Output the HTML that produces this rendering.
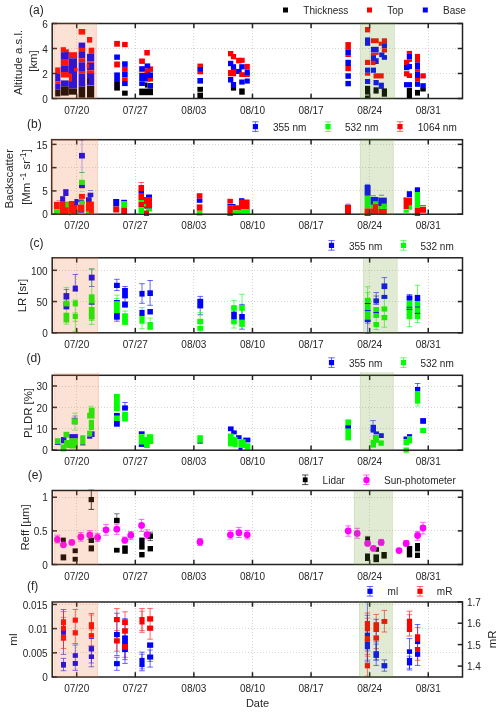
<!DOCTYPE html><html><head><meta charset="utf-8"><style>html,body{margin:0;padding:0;background:#fff;}svg{display:block;will-change:transform;}text{font-family:"Liberation Sans",sans-serif;fill:#262626;}</style></head><body>
<svg width="500" height="712" viewBox="0 0 500 712">
<line x1="76.50" y1="24.00" x2="76.50" y2="98.50" stroke="#d6d6d6" stroke-width="1" stroke-dasharray="1,2"/>
<line x1="135.50" y1="24.00" x2="135.50" y2="98.50" stroke="#d6d6d6" stroke-width="1" stroke-dasharray="1,2"/>
<line x1="193.50" y1="24.00" x2="193.50" y2="98.50" stroke="#d6d6d6" stroke-width="1" stroke-dasharray="1,2"/>
<line x1="252.50" y1="24.00" x2="252.50" y2="98.50" stroke="#d6d6d6" stroke-width="1" stroke-dasharray="1,2"/>
<line x1="311.50" y1="24.00" x2="311.50" y2="98.50" stroke="#d6d6d6" stroke-width="1" stroke-dasharray="1,2"/>
<line x1="369.50" y1="24.00" x2="369.50" y2="98.50" stroke="#d6d6d6" stroke-width="1" stroke-dasharray="1,2"/>
<line x1="428.50" y1="24.00" x2="428.50" y2="98.50" stroke="#d6d6d6" stroke-width="1" stroke-dasharray="1,2"/>
<line x1="53" y1="73.50" x2="462.5" y2="73.50" stroke="#d6d6d6" stroke-width="1" stroke-dasharray="1,2"/>
<line x1="53" y1="48.50" x2="462.5" y2="48.50" stroke="#d6d6d6" stroke-width="1" stroke-dasharray="1,2"/>
<rect x="55.2" y="67.4" width="5.2" height="5.9" fill="#ff0000"/>
<rect x="55.2" y="73.3" width="5.2" height="8.0" fill="#0000ff"/>
<rect x="55.2" y="81.3" width="5.2" height="2.5" fill="#ff0000"/>
<rect x="55.2" y="83.8" width="5.2" height="5.9" fill="#0000ff"/>
<rect x="55.2" y="89.7" width="5.2" height="6.7" fill="#000000"/>
<rect x="60.8" y="47.2" width="5.1" height="5.0" fill="#ff0000"/>
<rect x="64.2" y="49.3" width="4.6" height="5.0" fill="#ff0000"/>
<rect x="60.8" y="52.2" width="8.0" height="7.6" fill="#0000ff"/>
<rect x="60.8" y="59.8" width="8.0" height="5.5" fill="#ff0000"/>
<rect x="60.8" y="65.3" width="8.0" height="6.7" fill="#0000ff"/>
<rect x="60.8" y="72.0" width="8.7" height="5.5" fill="#ff0000"/>
<rect x="60.8" y="80.4" width="8.0" height="5.9" fill="#0000ff"/>
<rect x="60.8" y="86.3" width="8.0" height="9.3" fill="#000000"/>
<rect x="69.0" y="52.2" width="8.0" height="6.1" fill="#ff0000"/>
<rect x="69.0" y="58.3" width="8.0" height="30.3" fill="#0000ff"/>
<rect x="74.0" y="68.0" width="3.6" height="3.4" fill="#ff0000"/>
<rect x="69.0" y="73.5" width="3.0" height="8.0" fill="#ff0000"/>
<rect x="69.0" y="88.6" width="8.0" height="6.1" fill="#000000"/>
<rect x="78.6" y="29.0" width="6.6" height="5.6" fill="#ff0000"/>
<rect x="78.6" y="42.6" width="6.6" height="5.6" fill="#0000ff"/>
<rect x="78.6" y="47.7" width="6.6" height="3.5" fill="#ff0000"/>
<rect x="78.6" y="51.2" width="6.6" height="7.1" fill="#0000ff"/>
<rect x="78.6" y="58.3" width="6.6" height="4.0" fill="#ff0000"/>
<rect x="78.6" y="62.3" width="6.6" height="8.7" fill="#0000ff"/>
<rect x="78.6" y="71.0" width="6.6" height="2.5" fill="#ff0000"/>
<rect x="78.6" y="73.5" width="6.6" height="13.1" fill="#0000ff"/>
<rect x="78.6" y="86.6" width="6.6" height="11.1" fill="#000000"/>
<rect x="87.0" y="37.0" width="5.2" height="5.6" fill="#ff0000"/>
<rect x="88.7" y="47.7" width="5.5" height="6.1" fill="#ff0000"/>
<rect x="87.0" y="53.8" width="7.2" height="7.5" fill="#0000ff"/>
<rect x="87.0" y="61.3" width="7.2" height="1.5" fill="#ff0000"/>
<rect x="87.0" y="62.8" width="7.2" height="7.6" fill="#0000ff"/>
<rect x="86.7" y="63.9" width="2.5" height="4.5" fill="#ff0000"/>
<rect x="87.0" y="70.4" width="7.2" height="3.6" fill="#ff0000"/>
<rect x="87.0" y="73.5" width="7.2" height="12.1" fill="#0000ff"/>
<rect x="87.0" y="78.5" width="2.0" height="5.1" fill="#000000"/>
<rect x="87.0" y="86.0" width="7.2" height="11.7" fill="#000000"/>
<rect x="114.2" y="40.9" width="5.7" height="5.8" fill="#ff0000"/>
<rect x="114.2" y="54.5" width="5.7" height="5.3" fill="#0000ff"/>
<rect x="114.2" y="61.5" width="5.7" height="5.9" fill="#ff0000"/>
<rect x="114.2" y="72.4" width="5.7" height="9.6" fill="#0000ff"/>
<rect x="114.2" y="82.0" width="5.7" height="8.6" fill="#000000"/>
<rect x="122.1" y="41.9" width="5.6" height="5.3" fill="#ff0000"/>
<rect x="122.1" y="61.3" width="5.6" height="5.6" fill="#0000ff"/>
<rect x="122.1" y="66.9" width="5.6" height="5.0" fill="#ff0000"/>
<rect x="122.1" y="71.9" width="5.6" height="5.6" fill="#0000ff"/>
<rect x="122.1" y="77.5" width="5.6" height="3.5" fill="#ff0000"/>
<rect x="122.1" y="81.0" width="5.6" height="5.1" fill="#0000ff"/>
<rect x="122.1" y="90.6" width="5.6" height="5.1" fill="#000000"/>
<rect x="144.3" y="50.0" width="5.5" height="5.5" fill="#ff0000"/>
<rect x="139.2" y="58.5" width="5.7" height="5.4" fill="#ff0000"/>
<rect x="147.6" y="66.4" width="5.4" height="5.5" fill="#ff0000"/>
<rect x="144.6" y="68.4" width="5.6" height="5.1" fill="#ff0000"/>
<rect x="144.6" y="63.4" width="5.6" height="5.0" fill="#0000ff"/>
<rect x="139.2" y="66.2" width="5.7" height="4.8" fill="#0000ff"/>
<rect x="139.2" y="71.0" width="5.7" height="1.4" fill="#ff0000"/>
<rect x="139.2" y="73.0" width="11.0" height="8.5" fill="#0000ff"/>
<rect x="147.6" y="72.4" width="5.4" height="5.6" fill="#0000ff"/>
<rect x="147.6" y="78.0" width="5.4" height="3.5" fill="#ff0000"/>
<rect x="139.2" y="81.5" width="5.7" height="4.5" fill="#0000ff"/>
<rect x="144.9" y="82.5" width="2.7" height="5.1" fill="#000000"/>
<rect x="147.6" y="83.0" width="5.4" height="5.6" fill="#0000ff"/>
<rect x="139.2" y="88.6" width="13.8" height="6.6" fill="#000000"/>
<rect x="197.4" y="63.6" width="5.6" height="3.3" fill="#ff0000"/>
<rect x="197.4" y="66.9" width="5.6" height="5.0" fill="#0000ff"/>
<rect x="197.4" y="71.9" width="5.6" height="2.4" fill="#ff0000"/>
<rect x="197.4" y="78.0" width="5.6" height="5.6" fill="#0000ff"/>
<rect x="197.4" y="86.8" width="5.6" height="5.0" fill="#000000"/>
<rect x="197.4" y="92.6" width="5.6" height="5.6" fill="#000000"/>
<rect x="228.0" y="51.0" width="5.3" height="5.3" fill="#ff0000"/>
<rect x="230.9" y="54.0" width="5.2" height="5.3" fill="#ff0000"/>
<rect x="236.1" y="57.8" width="5.6" height="5.6" fill="#ff0000"/>
<rect x="239.2" y="57.8" width="5.5" height="5.0" fill="#ff0000"/>
<rect x="228.0" y="60.8" width="5.3" height="5.4" fill="#0000ff"/>
<rect x="230.9" y="64.2" width="5.2" height="5.7" fill="#0000ff"/>
<rect x="244.7" y="63.9" width="5.1" height="5.3" fill="#ff0000"/>
<rect x="239.2" y="64.2" width="5.5" height="5.2" fill="#0000ff"/>
<rect x="228.0" y="69.9" width="8.1" height="6.4" fill="#ff0000"/>
<rect x="236.1" y="68.9" width="5.6" height="5.1" fill="#0000ff"/>
<rect x="239.2" y="72.2" width="10.6" height="4.8" fill="#ff0000"/>
<rect x="244.7" y="69.4" width="5.1" height="5.6" fill="#0000ff"/>
<rect x="228.0" y="77.0" width="5.3" height="5.5" fill="#0000ff"/>
<rect x="230.9" y="82.0" width="5.2" height="5.1" fill="#0000ff"/>
<rect x="239.2" y="79.5" width="5.5" height="5.1" fill="#0000ff"/>
<rect x="244.7" y="78.5" width="5.1" height="5.1" fill="#0000ff"/>
<rect x="230.9" y="87.1" width="5.2" height="3.5" fill="#000000"/>
<rect x="239.2" y="88.4" width="5.5" height="6.3" fill="#000000"/>
<rect x="345.4" y="42.1" width="5.5" height="7.3" fill="#ff0000"/>
<rect x="345.4" y="49.4" width="5.5" height="5.7" fill="#0000ff"/>
<rect x="345.4" y="55.1" width="5.5" height="1.9" fill="#ff0000"/>
<rect x="345.4" y="59.8" width="5.5" height="6.2" fill="#0000ff"/>
<rect x="345.4" y="66.0" width="5.5" height="5.2" fill="#ff0000"/>
<rect x="345.4" y="73.3" width="5.5" height="5.5" fill="#0000ff"/>
<rect x="345.4" y="80.9" width="5.5" height="5.4" fill="#0000ff"/>
<rect x="365.0" y="27.0" width="5.2" height="5.4" fill="#ff0000"/>
<rect x="365.0" y="37.4" width="5.2" height="8.4" fill="#0000ff"/>
<rect x="365.0" y="59.8" width="5.2" height="5.2" fill="#ff0000"/>
<rect x="365.0" y="67.6" width="5.2" height="5.2" fill="#0000ff"/>
<rect x="365.0" y="72.8" width="5.2" height="2.9" fill="#ff0000"/>
<rect x="365.0" y="79.0" width="5.2" height="5.0" fill="#0000ff"/>
<rect x="365.0" y="85.8" width="5.2" height="8.8" fill="#000000"/>
<rect x="365.0" y="95.5" width="5.2" height="3.0" fill="#000000"/>
<rect x="370.9" y="38.3" width="7.8" height="4.9" fill="#ff0000"/>
<rect x="378.7" y="41.6" width="3.1" height="4.2" fill="#ff0000"/>
<rect x="370.9" y="46.8" width="7.8" height="5.7" fill="#0000ff"/>
<rect x="370.9" y="52.8" width="7.8" height="2.1" fill="#ff0000"/>
<rect x="370.9" y="55.1" width="5.1" height="6.2" fill="#0000ff"/>
<rect x="373.5" y="58.2" width="5.2" height="5.8" fill="#0000ff"/>
<rect x="370.9" y="60.8" width="4.6" height="4.2" fill="#ff0000"/>
<rect x="370.9" y="67.6" width="5.1" height="5.2" fill="#0000ff"/>
<rect x="373.5" y="73.3" width="10.2" height="5.2" fill="#ff0000"/>
<rect x="373.5" y="80.0" width="5.2" height="5.3" fill="#0000ff"/>
<rect x="373.5" y="87.3" width="5.2" height="6.3" fill="#000000"/>
<rect x="381.8" y="38.3" width="5.2" height="4.9" fill="#ff0000"/>
<rect x="381.8" y="43.2" width="5.2" height="5.2" fill="#0000ff"/>
<rect x="381.8" y="48.4" width="5.2" height="4.1" fill="#ff0000"/>
<rect x="379.2" y="52.5" width="5.2" height="4.7" fill="#0000ff"/>
<rect x="381.8" y="55.1" width="5.2" height="4.7" fill="#0000ff"/>
<rect x="378.7" y="82.7" width="5.2" height="6.2" fill="#0000ff"/>
<rect x="381.8" y="88.4" width="5.2" height="8.3" fill="#000000"/>
<rect x="406.8" y="50.9" width="5.2" height="3.0" fill="#ff0000"/>
<rect x="406.8" y="53.9" width="5.2" height="5.4" fill="#0000ff"/>
<rect x="404.0" y="59.8" width="5.4" height="5.2" fill="#ff0000"/>
<rect x="406.8" y="59.3" width="5.2" height="2.6" fill="#ff0000"/>
<rect x="404.0" y="65.0" width="5.4" height="5.2" fill="#0000ff"/>
<rect x="406.8" y="64.0" width="5.2" height="5.1" fill="#0000ff"/>
<rect x="404.0" y="71.2" width="5.4" height="5.2" fill="#ff0000"/>
<rect x="406.8" y="73.3" width="5.2" height="4.7" fill="#ff0000"/>
<rect x="404.0" y="82.1" width="8.0" height="5.2" fill="#0000ff"/>
<rect x="406.8" y="87.8" width="5.2" height="10.4" fill="#000000"/>
<rect x="415.0" y="53.9" width="5.0" height="8.5" fill="#ff0000"/>
<rect x="415.0" y="62.4" width="5.0" height="6.7" fill="#0000ff"/>
<rect x="415.0" y="69.1" width="5.0" height="2.6" fill="#ff0000"/>
<rect x="415.0" y="71.7" width="5.0" height="6.3" fill="#0000ff"/>
<rect x="415.0" y="78.0" width="5.0" height="3.6" fill="#ff0000"/>
<rect x="415.0" y="81.6" width="5.0" height="5.2" fill="#0000ff"/>
<rect x="415.0" y="89.9" width="5.0" height="5.7" fill="#000000"/>
<rect x="420.3" y="73.3" width="5.5" height="5.2" fill="#ff0000"/>
<rect x="420.3" y="83.2" width="5.5" height="5.7" fill="#0000ff"/>
<rect x="420.3" y="88.4" width="5.5" height="3.1" fill="#000000"/>
<rect x="52.2" y="23.5" width="410.30" height="75.00" fill="none" stroke="#222222" stroke-width="1.5"/>
<line x1="76.70" y1="98.5" x2="76.70" y2="93.70" stroke="#222222" stroke-width="1.5"/>
<line x1="76.70" y1="23.5" x2="76.70" y2="28.30" stroke="#222222" stroke-width="1.5"/>
<text x="76.70" y="113.50" font-size="10" text-anchor="middle">07/20</text>
<line x1="135.29" y1="98.5" x2="135.29" y2="93.70" stroke="#222222" stroke-width="1.5"/>
<line x1="135.29" y1="23.5" x2="135.29" y2="28.30" stroke="#222222" stroke-width="1.5"/>
<text x="135.29" y="113.50" font-size="10" text-anchor="middle">07/27</text>
<line x1="193.88" y1="98.5" x2="193.88" y2="93.70" stroke="#222222" stroke-width="1.5"/>
<line x1="193.88" y1="23.5" x2="193.88" y2="28.30" stroke="#222222" stroke-width="1.5"/>
<text x="193.88" y="113.50" font-size="10" text-anchor="middle">08/03</text>
<line x1="252.47" y1="98.5" x2="252.47" y2="93.70" stroke="#222222" stroke-width="1.5"/>
<line x1="252.47" y1="23.5" x2="252.47" y2="28.30" stroke="#222222" stroke-width="1.5"/>
<text x="252.47" y="113.50" font-size="10" text-anchor="middle">08/10</text>
<line x1="311.06" y1="98.5" x2="311.06" y2="93.70" stroke="#222222" stroke-width="1.5"/>
<line x1="311.06" y1="23.5" x2="311.06" y2="28.30" stroke="#222222" stroke-width="1.5"/>
<text x="311.06" y="113.50" font-size="10" text-anchor="middle">08/17</text>
<line x1="369.65" y1="98.5" x2="369.65" y2="93.70" stroke="#222222" stroke-width="1.5"/>
<line x1="369.65" y1="23.5" x2="369.65" y2="28.30" stroke="#222222" stroke-width="1.5"/>
<text x="369.65" y="113.50" font-size="10" text-anchor="middle">08/24</text>
<line x1="428.24" y1="98.5" x2="428.24" y2="93.70" stroke="#222222" stroke-width="1.5"/>
<line x1="428.24" y1="23.5" x2="428.24" y2="28.30" stroke="#222222" stroke-width="1.5"/>
<text x="428.24" y="113.50" font-size="10" text-anchor="middle">08/31</text>
<line x1="52.2" y1="98.50" x2="57.00" y2="98.50" stroke="#222222" stroke-width="1.5"/>
<line x1="462.5" y1="98.50" x2="457.7" y2="98.50" stroke="#222222" stroke-width="1.5"/>
<text x="47.7" y="102.70" font-size="10" text-anchor="end">0</text>
<line x1="52.2" y1="73.50" x2="57.00" y2="73.50" stroke="#222222" stroke-width="1.5"/>
<line x1="462.5" y1="73.50" x2="457.7" y2="73.50" stroke="#222222" stroke-width="1.5"/>
<text x="47.7" y="77.70" font-size="10" text-anchor="end">2</text>
<line x1="52.2" y1="48.50" x2="57.00" y2="48.50" stroke="#222222" stroke-width="1.5"/>
<line x1="462.5" y1="48.50" x2="457.7" y2="48.50" stroke="#222222" stroke-width="1.5"/>
<text x="47.7" y="52.70" font-size="10" text-anchor="end">4</text>
<line x1="52.2" y1="23.50" x2="57.00" y2="23.50" stroke="#222222" stroke-width="1.5"/>
<line x1="462.5" y1="23.50" x2="457.7" y2="23.50" stroke="#222222" stroke-width="1.5"/>
<text x="47.7" y="27.70" font-size="10" text-anchor="end">6</text>
<rect x="53.2" y="22.5" width="43.6" height="76.5" fill="#f26a2f" fill-opacity="0.2"/>
<line x1="96.3" y1="22.5" x2="96.3" y2="99.0" stroke="#f26a2f" stroke-opacity="0.15" stroke-width="1"/>
<line x1="54.5" y1="22.5" x2="54.5" y2="99.0" stroke="#f26a2f" stroke-opacity="0.12" stroke-width="1"/>
<rect x="359.9" y="22.2" width="35.0" height="76.8" fill="#6b9a2a" fill-opacity="0.2"/>
<line x1="360.4" y1="22.2" x2="360.4" y2="99.0" stroke="#6b9a2a" stroke-opacity="0.12" stroke-width="1"/>
<line x1="394.4" y1="22.2" x2="394.4" y2="99.0" stroke="#6b9a2a" stroke-opacity="0.08" stroke-width="1"/>
<line x1="76.50" y1="140.00" x2="76.50" y2="214.20" stroke="#d6d6d6" stroke-width="1" stroke-dasharray="1,2"/>
<line x1="135.50" y1="140.00" x2="135.50" y2="214.20" stroke="#d6d6d6" stroke-width="1" stroke-dasharray="1,2"/>
<line x1="193.50" y1="140.00" x2="193.50" y2="214.20" stroke="#d6d6d6" stroke-width="1" stroke-dasharray="1,2"/>
<line x1="252.50" y1="140.00" x2="252.50" y2="214.20" stroke="#d6d6d6" stroke-width="1" stroke-dasharray="1,2"/>
<line x1="311.50" y1="140.00" x2="311.50" y2="214.20" stroke="#d6d6d6" stroke-width="1" stroke-dasharray="1,2"/>
<line x1="369.50" y1="140.00" x2="369.50" y2="214.20" stroke="#d6d6d6" stroke-width="1" stroke-dasharray="1,2"/>
<line x1="428.50" y1="140.00" x2="428.50" y2="214.20" stroke="#d6d6d6" stroke-width="1" stroke-dasharray="1,2"/>
<line x1="53" y1="190.50" x2="462.5" y2="190.50" stroke="#d6d6d6" stroke-width="1" stroke-dasharray="1,2"/>
<line x1="53" y1="167.50" x2="462.5" y2="167.50" stroke="#d6d6d6" stroke-width="1" stroke-dasharray="1,2"/>
<line x1="53" y1="144.50" x2="462.5" y2="144.50" stroke="#d6d6d6" stroke-width="1" stroke-dasharray="1,2"/>
<line x1="82.0" y1="140.0" x2="82.0" y2="172.5" stroke="#0000ff" stroke-opacity="0.35" stroke-width="1.0"/>
<line x1="79.5" y1="140.0" x2="84.5" y2="140.0" stroke="#0000ff" stroke-opacity="0.5" stroke-width="1.0"/>
<line x1="79.5" y1="172.5" x2="84.5" y2="172.5" stroke="#0000ff" stroke-opacity="0.5" stroke-width="1.0"/>
<line x1="79.5" y1="172.5" x2="84.5" y2="172.5" stroke="#00ff00" stroke-opacity="0.5" stroke-width="1.0"/>
<line x1="82.0" y1="172.5" x2="82.0" y2="180.0" stroke="#00ff00" stroke-opacity="0.35" stroke-width="1.0"/>
<line x1="79.5" y1="188.2" x2="84.5" y2="188.2" stroke="#ff0000" stroke-opacity="0.5" stroke-width="1.0"/>
<line x1="79.5" y1="191.6" x2="84.5" y2="191.6" stroke="#00ff00" stroke-opacity="0.5" stroke-width="1.0"/>
<line x1="88.0" y1="190.5" x2="93.0" y2="190.5" stroke="#0000ff" stroke-opacity="0.5" stroke-width="1.0"/>
<line x1="86.5" y1="195.0" x2="91.5" y2="195.0" stroke="#ff0000" stroke-opacity="0.5" stroke-width="1.0"/>
<line x1="56.5" y1="200.6" x2="61.5" y2="200.6" stroke="#ff0000" stroke-opacity="0.5" stroke-width="1.0"/>
<line x1="138.5" y1="182.5" x2="144.0" y2="182.5" stroke="#ff0000" stroke-opacity="0.6" stroke-width="1.0"/>
<line x1="141.2" y1="182.5" x2="141.2" y2="185.0" stroke="#ff0000" stroke-opacity="0.5" stroke-width="1.0"/>
<line x1="345.5" y1="204.2" x2="350.5" y2="204.2" stroke="#0000ff" stroke-opacity="0.6" stroke-width="1.0"/>
<line x1="365.0" y1="184.4" x2="370.0" y2="184.4" stroke="#0000ff" stroke-opacity="0.6" stroke-width="1.0"/>
<line x1="371.0" y1="195.8" x2="376.0" y2="195.8" stroke="#0000ff" stroke-opacity="0.6" stroke-width="1.0"/>
<line x1="379.0" y1="195.2" x2="384.0" y2="195.2" stroke="#0000ff" stroke-opacity="0.6" stroke-width="1.0"/>
<line x1="403.2" y1="198.2" x2="406.8" y2="198.2" stroke="#0000ff" stroke-opacity="0.6" stroke-width="1.0"/>
<line x1="415.0" y1="187.6" x2="420.0" y2="187.6" stroke="#0000ff" stroke-opacity="0.6" stroke-width="1.0"/>
<line x1="420.0" y1="206.0" x2="426.0" y2="206.0" stroke="#00ff00" stroke-opacity="0.6" stroke-width="1.0"/>
<line x1="420.0" y1="205.6" x2="426.0" y2="205.6" stroke="#0000ff" stroke-opacity="0.6" stroke-width="1.0"/>
<rect x="63.2" y="189.2" width="5.3" height="6.8" fill="#0000ff"/>
<rect x="60.1" y="196.2" width="5.1" height="5.6" fill="#0000ff"/>
<rect x="54.0" y="201.8" width="5.8" height="7.3" fill="#ff0000"/>
<rect x="54.0" y="209.1" width="5.8" height="4.8" fill="#00ff00"/>
<rect x="59.8" y="201.8" width="9.0" height="12.9" fill="#ff0000"/>
<rect x="65.4" y="202.1" width="3.4" height="5.3" fill="#00ff00"/>
<rect x="68.8" y="201.0" width="8.4" height="13.2" fill="#ff0000"/>
<rect x="68.8" y="213.0" width="2.2" height="2.3" fill="#00ff00"/>
<rect x="74.4" y="199.0" width="3.8" height="6.2" fill="#0000ff"/>
<rect x="79.0" y="152.9" width="5.9" height="5.6" fill="#0000ff"/>
<rect x="79.0" y="179.8" width="5.9" height="5.1" fill="#00ff00"/>
<rect x="79.0" y="184.9" width="5.9" height="3.1" fill="#0000ff"/>
<rect x="79.0" y="193.9" width="5.9" height="5.0" fill="#ff0000"/>
<rect x="78.2" y="199.5" width="5.6" height="2.8" fill="#0000ff"/>
<rect x="79.3" y="200.6" width="5.6" height="3.9" fill="#00ff00"/>
<rect x="77.6" y="204.5" width="6.8" height="7.9" fill="#ff0000"/>
<rect x="78.0" y="212.2" width="6.0" height="0.6" fill="#0000ff"/>
<rect x="87.7" y="192.7" width="5.6" height="4.5" fill="#0000ff"/>
<rect x="86.0" y="197.2" width="5.7" height="5.1" fill="#0000ff"/>
<rect x="86.0" y="201.7" width="7.9" height="11.8" fill="#ff0000"/>
<rect x="86.0" y="211.3" width="2.9" height="2.2" fill="#00ff00"/>
<rect x="113.2" y="199.0" width="6.0" height="7.5" fill="#0000ff"/>
<rect x="113.2" y="206.5" width="6.0" height="6.0" fill="#ff0000"/>
<rect x="121.2" y="199.8" width="5.8" height="1.2" fill="#0000ff"/>
<rect x="121.2" y="201.0" width="5.8" height="6.5" fill="#00ff00"/>
<rect x="121.2" y="207.5" width="5.8" height="6.5" fill="#ff0000"/>
<rect x="138.5" y="185.0" width="5.5" height="6.0" fill="#ff0000"/>
<rect x="138.5" y="191.0" width="5.5" height="2.0" fill="#0000ff"/>
<rect x="138.5" y="193.0" width="5.5" height="7.0" fill="#ff0000"/>
<rect x="138.5" y="200.0" width="5.5" height="2.0" fill="#00ff00"/>
<rect x="138.5" y="202.0" width="5.5" height="5.0" fill="#ff0000"/>
<rect x="138.5" y="206.8" width="5.5" height="0.6" fill="#0000ff"/>
<rect x="138.5" y="207.5" width="5.5" height="5.5" fill="#00ff00"/>
<rect x="146.0" y="194.5" width="6.0" height="3.0" fill="#0000ff"/>
<rect x="144.0" y="197.0" width="8.0" height="11.5" fill="#ff0000"/>
<rect x="144.0" y="204.0" width="2.0" height="2.5" fill="#00ff00"/>
<rect x="145.0" y="208.2" width="7.0" height="0.6" fill="#0000ff"/>
<rect x="146.0" y="208.5" width="6.0" height="3.0" fill="#00ff00"/>
<rect x="144.0" y="210.5" width="5.0" height="5.5" fill="#ff0000"/>
<rect x="196.8" y="193.2" width="5.6" height="5.6" fill="#ff0000"/>
<rect x="196.8" y="198.8" width="5.6" height="4.0" fill="#0000ff"/>
<rect x="196.8" y="204.4" width="5.6" height="6.4" fill="#ff0000"/>
<rect x="196.8" y="210.8" width="5.6" height="4.8" fill="#00ff00"/>
<rect x="227.4" y="198.8" width="5.5" height="4.8" fill="#ff0000"/>
<rect x="227.4" y="204.0" width="8.2" height="1.6" fill="#0000ff"/>
<rect x="227.4" y="205.6" width="5.5" height="10.3" fill="#ff0000"/>
<rect x="232.9" y="205.3" width="6.1" height="5.1" fill="#ff0000"/>
<rect x="232.9" y="210.4" width="8.1" height="4.1" fill="#00ff00"/>
<rect x="239.0" y="198.2" width="5.4" height="2.7" fill="#0000ff"/>
<rect x="239.0" y="199.5" width="10.6" height="10.9" fill="#ff0000"/>
<rect x="241.0" y="209.0" width="8.9" height="4.5" fill="#00ff00"/>
<rect x="345.0" y="204.8" width="6.0" height="9.6" fill="#ff0000"/>
<rect x="364.6" y="185.0" width="6.0" height="10.8" fill="#0000ff"/>
<rect x="364.6" y="195.8" width="6.0" height="12.6" fill="#00ff00"/>
<rect x="364.6" y="208.4" width="6.0" height="7.6" fill="#ff0000"/>
<rect x="370.6" y="197.0" width="7.8" height="7.8" fill="#0000ff"/>
<rect x="373.0" y="201.2" width="5.4" height="3.6" fill="#00ff00"/>
<rect x="373.0" y="204.2" width="5.4" height="10.2" fill="#ff0000"/>
<rect x="370.6" y="204.8" width="2.4" height="3.6" fill="#00ff00"/>
<rect x="370.6" y="208.4" width="2.4" height="6.0" fill="#ff0000"/>
<rect x="378.4" y="197.6" width="8.4" height="8.4" fill="#0000ff"/>
<rect x="381.4" y="203.6" width="5.4" height="6.0" fill="#00ff00"/>
<rect x="378.4" y="206.0" width="3.0" height="3.6" fill="#00ff00"/>
<rect x="378.4" y="209.0" width="8.4" height="6.0" fill="#ff0000"/>
<rect x="406.8" y="191.2" width="5.2" height="6.0" fill="#0000ff"/>
<rect x="403.6" y="197.6" width="8.4" height="11.6" fill="#ff0000"/>
<rect x="408.8" y="205.2" width="3.2" height="4.4" fill="#00ff00"/>
<rect x="403.6" y="209.6" width="5.2" height="3.2" fill="#00ff00"/>
<rect x="414.8" y="187.6" width="5.2" height="4.4" fill="#0000ff"/>
<rect x="414.8" y="192.0" width="5.2" height="16.0" fill="#00ff00"/>
<rect x="414.8" y="208.0" width="5.2" height="8.0" fill="#ff0000"/>
<rect x="420.0" y="206.8" width="6.0" height="6.0" fill="#ff0000"/>
<rect x="51.7" y="139.7" width="410.80" height="74.50" fill="none" stroke="#222222" stroke-width="1.5"/>
<line x1="76.70" y1="214.2" x2="76.70" y2="209.40" stroke="#222222" stroke-width="1.5"/>
<line x1="76.70" y1="139.7" x2="76.70" y2="144.50" stroke="#222222" stroke-width="1.5"/>
<text x="76.70" y="229.20" font-size="10" text-anchor="middle">07/20</text>
<line x1="135.29" y1="214.2" x2="135.29" y2="209.40" stroke="#222222" stroke-width="1.5"/>
<line x1="135.29" y1="139.7" x2="135.29" y2="144.50" stroke="#222222" stroke-width="1.5"/>
<text x="135.29" y="229.20" font-size="10" text-anchor="middle">07/27</text>
<line x1="193.88" y1="214.2" x2="193.88" y2="209.40" stroke="#222222" stroke-width="1.5"/>
<line x1="193.88" y1="139.7" x2="193.88" y2="144.50" stroke="#222222" stroke-width="1.5"/>
<text x="193.88" y="229.20" font-size="10" text-anchor="middle">08/03</text>
<line x1="252.47" y1="214.2" x2="252.47" y2="209.40" stroke="#222222" stroke-width="1.5"/>
<line x1="252.47" y1="139.7" x2="252.47" y2="144.50" stroke="#222222" stroke-width="1.5"/>
<text x="252.47" y="229.20" font-size="10" text-anchor="middle">08/10</text>
<line x1="311.06" y1="214.2" x2="311.06" y2="209.40" stroke="#222222" stroke-width="1.5"/>
<line x1="311.06" y1="139.7" x2="311.06" y2="144.50" stroke="#222222" stroke-width="1.5"/>
<text x="311.06" y="229.20" font-size="10" text-anchor="middle">08/17</text>
<line x1="369.65" y1="214.2" x2="369.65" y2="209.40" stroke="#222222" stroke-width="1.5"/>
<line x1="369.65" y1="139.7" x2="369.65" y2="144.50" stroke="#222222" stroke-width="1.5"/>
<text x="369.65" y="229.20" font-size="10" text-anchor="middle">08/24</text>
<line x1="428.24" y1="214.2" x2="428.24" y2="209.40" stroke="#222222" stroke-width="1.5"/>
<line x1="428.24" y1="139.7" x2="428.24" y2="144.50" stroke="#222222" stroke-width="1.5"/>
<text x="428.24" y="229.20" font-size="10" text-anchor="middle">08/31</text>
<line x1="51.7" y1="214.20" x2="56.50" y2="214.20" stroke="#222222" stroke-width="1.5"/>
<line x1="462.5" y1="214.20" x2="457.7" y2="214.20" stroke="#222222" stroke-width="1.5"/>
<text x="47.7" y="218.40" font-size="10" text-anchor="end">0</text>
<line x1="51.7" y1="190.92" x2="56.50" y2="190.92" stroke="#222222" stroke-width="1.5"/>
<line x1="462.5" y1="190.92" x2="457.7" y2="190.92" stroke="#222222" stroke-width="1.5"/>
<text x="47.7" y="195.12" font-size="10" text-anchor="end">5</text>
<line x1="51.7" y1="167.64" x2="56.50" y2="167.64" stroke="#222222" stroke-width="1.5"/>
<line x1="462.5" y1="167.64" x2="457.7" y2="167.64" stroke="#222222" stroke-width="1.5"/>
<text x="47.7" y="171.84" font-size="10" text-anchor="end">10</text>
<line x1="51.7" y1="144.36" x2="56.50" y2="144.36" stroke="#222222" stroke-width="1.5"/>
<line x1="462.5" y1="144.36" x2="457.7" y2="144.36" stroke="#222222" stroke-width="1.5"/>
<text x="47.7" y="148.56" font-size="10" text-anchor="end">15</text>
<rect x="50.6" y="138.6" width="47.3" height="76.2" fill="#f26a2f" fill-opacity="0.2"/>
<line x1="97.4" y1="138.6" x2="97.4" y2="214.8" stroke="#f26a2f" stroke-opacity="0.15" stroke-width="1"/>
<line x1="51.9" y1="138.6" x2="51.9" y2="214.8" stroke="#f26a2f" stroke-opacity="0.12" stroke-width="1"/>
<rect x="359.9" y="138.1" width="33.9" height="76.7" fill="#6b9a2a" fill-opacity="0.2"/>
<line x1="360.4" y1="138.1" x2="360.4" y2="214.8" stroke="#6b9a2a" stroke-opacity="0.12" stroke-width="1"/>
<line x1="393.3" y1="138.1" x2="393.3" y2="214.8" stroke="#6b9a2a" stroke-opacity="0.08" stroke-width="1"/>
<line x1="76.50" y1="258.00" x2="76.50" y2="332.80" stroke="#d6d6d6" stroke-width="1" stroke-dasharray="1,2"/>
<line x1="135.50" y1="258.00" x2="135.50" y2="332.80" stroke="#d6d6d6" stroke-width="1" stroke-dasharray="1,2"/>
<line x1="193.50" y1="258.00" x2="193.50" y2="332.80" stroke="#d6d6d6" stroke-width="1" stroke-dasharray="1,2"/>
<line x1="252.50" y1="258.00" x2="252.50" y2="332.80" stroke="#d6d6d6" stroke-width="1" stroke-dasharray="1,2"/>
<line x1="311.50" y1="258.00" x2="311.50" y2="332.80" stroke="#d6d6d6" stroke-width="1" stroke-dasharray="1,2"/>
<line x1="369.50" y1="258.00" x2="369.50" y2="332.80" stroke="#d6d6d6" stroke-width="1" stroke-dasharray="1,2"/>
<line x1="428.50" y1="258.00" x2="428.50" y2="332.80" stroke="#d6d6d6" stroke-width="1" stroke-dasharray="1,2"/>
<line x1="53" y1="301.50" x2="462.5" y2="301.50" stroke="#d6d6d6" stroke-width="1" stroke-dasharray="1,2"/>
<line x1="53" y1="270.50" x2="462.5" y2="270.50" stroke="#d6d6d6" stroke-width="1" stroke-dasharray="1,2"/>
<path d="M63.6 287.4H69.2M66.4 287.4V324.2M63.6 324.2H69.2" stroke="#00ff00" stroke-opacity="0.6" stroke-width="1.0" fill="none"/>
<path d="M63.6 289.4H69.2M66.4 289.4V309.0M63.6 309.0H69.2" stroke="#0000ff" stroke-opacity="0.6" stroke-width="1.0" fill="none"/>
<path d="M72.5 274.5H78.1M75.3 274.5V291.0M72.5 291.0H78.1" stroke="#0000ff" stroke-opacity="0.6" stroke-width="1.0" fill="none"/>
<path d="M72.5 300.0H78.1M75.3 300.0V321.3M72.5 321.3H78.1" stroke="#00ff00" stroke-opacity="0.6" stroke-width="1.0" fill="none"/>
<path d="M72.5 313.0H78.1M75.3 313.0V331.3M72.5 331.3H78.1" stroke="#00ff00" stroke-opacity="0.6" stroke-width="1.0" fill="none"/>
<path d="M88.9 269.0H94.5M91.7 269.0V286.5M88.9 286.5H94.5" stroke="#0000ff" stroke-opacity="0.6" stroke-width="1.0" fill="none"/>
<path d="M88.9 269.0H94.5M91.7 269.0V324.4M88.9 324.4H94.5" stroke="#00ff00" stroke-opacity="0.6" stroke-width="1.0" fill="none"/>
<path d="M88.9 300.0H94.5M91.7 300.0V320.5M88.9 320.5H94.5" stroke="#00ff00" stroke-opacity="0.6" stroke-width="1.0" fill="none"/>
<path d="M114.1 279.3H119.7M116.9 279.3V290.6M114.1 290.6H119.7" stroke="#0000ff" stroke-opacity="0.6" stroke-width="1.0" fill="none"/>
<path d="M114.1 295.2H119.7M116.9 295.2V313.0M114.1 313.0H119.7" stroke="#00ff00" stroke-opacity="0.6" stroke-width="1.0" fill="none"/>
<path d="M114.1 298.4H119.7M116.9 298.4V313.0M114.1 313.0H119.7" stroke="#00ff00" stroke-opacity="0.6" stroke-width="1.0" fill="none"/>
<path d="M114.1 313.0H119.7M116.9 313.0V321.2M114.1 321.2H119.7" stroke="#0000ff" stroke-opacity="0.6" stroke-width="1.0" fill="none"/>
<path d="M122.2 286.5H127.8M125.0 286.5V301.8M122.2 301.8H127.8" stroke="#0000ff" stroke-opacity="0.6" stroke-width="1.0" fill="none"/>
<path d="M122.2 311.0H127.8M125.0 311.0V320.0M122.2 320.0H127.8" stroke="#00ff00" stroke-opacity="0.6" stroke-width="1.0" fill="none"/>
<path d="M139.2 283.7H144.8M142.0 283.7V303.3M139.2 303.3H144.8" stroke="#0000ff" stroke-opacity="0.6" stroke-width="1.0" fill="none"/>
<path d="M139.2 307.6H144.8M142.0 307.6V328.7M139.2 328.7H144.8" stroke="#00ff00" stroke-opacity="0.6" stroke-width="1.0" fill="none"/>
<path d="M147.3 280.5H152.9M150.1 280.5V305.3M147.3 305.3H152.9" stroke="#0000ff" stroke-opacity="0.6" stroke-width="1.0" fill="none"/>
<path d="M147.3 318.0H152.9M150.1 318.0V329.5M147.3 329.5H152.9" stroke="#00ff00" stroke-opacity="0.6" stroke-width="1.0" fill="none"/>
<path d="M197.4 296.4H203.0M200.2 296.4V314.8M197.4 314.8H203.0" stroke="#0000ff" stroke-opacity="0.6" stroke-width="1.0" fill="none"/>
<path d="M197.4 312.4H203.0M200.2 312.4V332.4M197.4 332.4H203.0" stroke="#00ff00" stroke-opacity="0.6" stroke-width="1.0" fill="none"/>
<path d="M231.2 300.4H236.8M234.0 300.4V328.0M231.2 328.0H236.8" stroke="#00ff00" stroke-opacity="0.6" stroke-width="1.0" fill="none"/>
<path d="M231.2 308.0H236.8M234.0 308.0V322.0M231.2 322.0H236.8" stroke="#0000ff" stroke-opacity="0.6" stroke-width="1.0" fill="none"/>
<path d="M239.2 294.3H244.8M242.0 294.3V326.0M239.2 326.0H244.8" stroke="#00ff00" stroke-opacity="0.6" stroke-width="1.0" fill="none"/>
<path d="M239.2 304.4H244.8M242.0 304.4V329.2M239.2 329.2H244.8" stroke="#0000ff" stroke-opacity="0.6" stroke-width="1.0" fill="none"/>
<path d="M364.9 286.8H370.5M367.7 286.8V310.0M364.9 310.0H370.5" stroke="#00ff00" stroke-opacity="0.6" stroke-width="1.0" fill="none"/>
<path d="M364.9 292.6H370.5M367.7 292.6V310.0M364.9 310.0H370.5" stroke="#00ff00" stroke-opacity="0.6" stroke-width="1.0" fill="none"/>
<path d="M364.9 300.0H370.5M367.7 300.0V323.1M364.9 323.1H370.5" stroke="#0000ff" stroke-opacity="0.6" stroke-width="1.0" fill="none"/>
<path d="M364.9 320.0H370.5M367.7 320.0V333.3M364.9 333.3H370.5" stroke="#0000ff" stroke-opacity="0.6" stroke-width="1.0" fill="none"/>
<path d="M373.4 292.6H379.0M376.2 292.6V304.1M373.4 304.1H379.0" stroke="#0000ff" stroke-opacity="0.6" stroke-width="1.0" fill="none"/>
<path d="M373.4 296.0H379.0M376.2 296.0V304.1M373.4 304.1H379.0" stroke="#0000ff" stroke-opacity="0.6" stroke-width="1.0" fill="none"/>
<path d="M373.4 310.0H379.0M376.2 310.0V329.5M373.4 329.5H379.0" stroke="#00ff00" stroke-opacity="0.6" stroke-width="1.0" fill="none"/>
<path d="M381.6 277.6H387.2M384.4 277.6V298.0M381.6 298.0H387.2" stroke="#0000ff" stroke-opacity="0.6" stroke-width="1.0" fill="none"/>
<path d="M381.6 298.0H387.2M384.4 298.0V327.2M381.6 327.2H387.2" stroke="#00ff00" stroke-opacity="0.6" stroke-width="1.0" fill="none"/>
<path d="M406.7 294.6H412.3M409.5 294.6V309.3M406.7 309.3H412.3" stroke="#0000ff" stroke-opacity="0.6" stroke-width="1.0" fill="none"/>
<path d="M406.7 295.5H412.3M409.5 295.5V307.2M406.7 307.2H412.3" stroke="#0000ff" stroke-opacity="0.6" stroke-width="1.0" fill="none"/>
<path d="M406.7 305.0H412.3M409.5 305.0V326.6M406.7 326.6H412.3" stroke="#00ff00" stroke-opacity="0.6" stroke-width="1.0" fill="none"/>
<path d="M414.7 285.3H420.3M417.5 285.3V322.5M414.7 322.5H420.3" stroke="#00ff00" stroke-opacity="0.6" stroke-width="1.0" fill="none"/>
<path d="M414.7 300.0H420.3M417.5 300.0V313.3M414.7 313.3H420.3" stroke="#0000ff" stroke-opacity="0.6" stroke-width="1.0" fill="none"/>
<rect x="63.5" y="293.1" width="5.8" height="6.4" fill="#0000ff"/>
<rect x="63.5" y="302.0" width="5.8" height="7.2" fill="#0000ff"/>
<rect x="63.5" y="300.6" width="5.8" height="5.8" fill="#00ff00"/>
<rect x="63.5" y="312.7" width="5.8" height="9.8" fill="#00ff00"/>
<rect x="72.7" y="285.6" width="5.2" height="5.8" fill="#0000ff"/>
<rect x="72.7" y="300.6" width="5.2" height="5.8" fill="#00ff00"/>
<rect x="72.7" y="313.8" width="5.2" height="5.2" fill="#00ff00"/>
<rect x="88.8" y="274.7" width="5.8" height="5.8" fill="#0000ff"/>
<rect x="88.8" y="294.3" width="5.8" height="10.3" fill="#00ff00"/>
<rect x="88.8" y="303.6" width="5.8" height="1.0" fill="#0000ff"/>
<rect x="88.8" y="307.0" width="5.8" height="12.6" fill="#00ff00"/>
<rect x="114.0" y="282.8" width="5.8" height="5.2" fill="#0000ff"/>
<rect x="114.0" y="300.0" width="5.8" height="1.8" fill="#0000ff"/>
<rect x="114.0" y="301.2" width="5.8" height="12.1" fill="#00ff00"/>
<rect x="114.0" y="313.3" width="5.8" height="6.4" fill="#0000ff"/>
<rect x="122.1" y="288.0" width="5.8" height="10.4" fill="#0000ff"/>
<rect x="122.1" y="301.8" width="5.8" height="5.8" fill="#0000ff"/>
<rect x="122.1" y="313.3" width="5.8" height="11.6" fill="#00ff00"/>
<rect x="139.4" y="290.9" width="5.2" height="5.7" fill="#0000ff"/>
<rect x="139.4" y="309.9" width="5.2" height="6.3" fill="#0000ff"/>
<rect x="139.4" y="316.2" width="5.2" height="7.5" fill="#00ff00"/>
<rect x="147.4" y="290.3" width="5.5" height="5.7" fill="#0000ff"/>
<rect x="147.4" y="309.0" width="5.5" height="5.5" fill="#0000ff"/>
<rect x="147.4" y="322.0" width="5.5" height="7.5" fill="#00ff00"/>
<rect x="197.3" y="298.8" width="5.9" height="9.6" fill="#0000ff"/>
<rect x="197.3" y="318.8" width="5.9" height="5.6" fill="#00ff00"/>
<rect x="197.3" y="326.0" width="5.9" height="4.8" fill="#00ff00"/>
<rect x="231.2" y="305.2" width="5.6" height="5.6" fill="#00ff00"/>
<rect x="231.2" y="311.6" width="5.6" height="8.0" fill="#0000ff"/>
<rect x="231.2" y="319.6" width="5.6" height="4.8" fill="#00ff00"/>
<rect x="239.2" y="304.9" width="5.6" height="5.9" fill="#00ff00"/>
<rect x="239.2" y="314.0" width="5.6" height="6.4" fill="#0000ff"/>
<rect x="239.2" y="319.6" width="5.6" height="7.2" fill="#00ff00"/>
<rect x="364.8" y="297.8" width="5.8" height="24.2" fill="#00ff00"/>
<rect x="364.8" y="303.0" width="5.8" height="1.0" fill="#0000ff"/>
<rect x="364.8" y="310.0" width="5.8" height="1.0" fill="#0000ff"/>
<rect x="364.8" y="319.7" width="5.8" height="2.3" fill="#0000ff"/>
<rect x="373.4" y="298.4" width="5.6" height="4.6" fill="#0000ff"/>
<rect x="373.4" y="307.0" width="5.6" height="11.0" fill="#00ff00"/>
<rect x="373.4" y="312.0" width="5.6" height="1.0" fill="#0000ff"/>
<rect x="373.4" y="322.0" width="5.6" height="5.2" fill="#00ff00"/>
<rect x="381.5" y="283.4" width="5.8" height="5.7" fill="#0000ff"/>
<rect x="381.5" y="294.9" width="5.8" height="4.0" fill="#0000ff"/>
<rect x="381.5" y="306.4" width="5.8" height="5.2" fill="#00ff00"/>
<rect x="381.5" y="315.0" width="5.8" height="5.2" fill="#00ff00"/>
<rect x="406.6" y="296.0" width="5.8" height="4.7" fill="#0000ff"/>
<rect x="406.6" y="300.7" width="5.8" height="18.4" fill="#00ff00"/>
<rect x="406.6" y="306.8" width="5.8" height="0.8" fill="#0000ff"/>
<rect x="406.6" y="308.9" width="5.8" height="0.8" fill="#0000ff"/>
<rect x="414.8" y="294.9" width="5.4" height="6.3" fill="#0000ff"/>
<rect x="414.8" y="301.2" width="5.4" height="17.9" fill="#00ff00"/>
<rect x="414.8" y="306.6" width="5.4" height="0.8" fill="#0000ff"/>
<rect x="414.8" y="312.9" width="5.4" height="0.8" fill="#0000ff"/>
<rect x="52.2" y="257.8" width="410.30" height="75.00" fill="none" stroke="#222222" stroke-width="1.5"/>
<line x1="76.70" y1="332.8" x2="76.70" y2="328.00" stroke="#222222" stroke-width="1.5"/>
<line x1="76.70" y1="257.8" x2="76.70" y2="262.60" stroke="#222222" stroke-width="1.5"/>
<text x="76.70" y="347.80" font-size="10" text-anchor="middle">07/20</text>
<line x1="135.29" y1="332.8" x2="135.29" y2="328.00" stroke="#222222" stroke-width="1.5"/>
<line x1="135.29" y1="257.8" x2="135.29" y2="262.60" stroke="#222222" stroke-width="1.5"/>
<text x="135.29" y="347.80" font-size="10" text-anchor="middle">07/27</text>
<line x1="193.88" y1="332.8" x2="193.88" y2="328.00" stroke="#222222" stroke-width="1.5"/>
<line x1="193.88" y1="257.8" x2="193.88" y2="262.60" stroke="#222222" stroke-width="1.5"/>
<text x="193.88" y="347.80" font-size="10" text-anchor="middle">08/03</text>
<line x1="252.47" y1="332.8" x2="252.47" y2="328.00" stroke="#222222" stroke-width="1.5"/>
<line x1="252.47" y1="257.8" x2="252.47" y2="262.60" stroke="#222222" stroke-width="1.5"/>
<text x="252.47" y="347.80" font-size="10" text-anchor="middle">08/10</text>
<line x1="311.06" y1="332.8" x2="311.06" y2="328.00" stroke="#222222" stroke-width="1.5"/>
<line x1="311.06" y1="257.8" x2="311.06" y2="262.60" stroke="#222222" stroke-width="1.5"/>
<text x="311.06" y="347.80" font-size="10" text-anchor="middle">08/17</text>
<line x1="369.65" y1="332.8" x2="369.65" y2="328.00" stroke="#222222" stroke-width="1.5"/>
<line x1="369.65" y1="257.8" x2="369.65" y2="262.60" stroke="#222222" stroke-width="1.5"/>
<text x="369.65" y="347.80" font-size="10" text-anchor="middle">08/24</text>
<line x1="428.24" y1="332.8" x2="428.24" y2="328.00" stroke="#222222" stroke-width="1.5"/>
<line x1="428.24" y1="257.8" x2="428.24" y2="262.60" stroke="#222222" stroke-width="1.5"/>
<text x="428.24" y="347.80" font-size="10" text-anchor="middle">08/31</text>
<line x1="52.2" y1="332.80" x2="57.00" y2="332.80" stroke="#222222" stroke-width="1.5"/>
<line x1="462.5" y1="332.80" x2="457.7" y2="332.80" stroke="#222222" stroke-width="1.5"/>
<text x="47.7" y="337.00" font-size="10" text-anchor="end">0</text>
<line x1="52.2" y1="301.55" x2="57.00" y2="301.55" stroke="#222222" stroke-width="1.5"/>
<line x1="462.5" y1="301.55" x2="457.7" y2="301.55" stroke="#222222" stroke-width="1.5"/>
<text x="47.7" y="305.75" font-size="10" text-anchor="end">50</text>
<line x1="52.2" y1="270.30" x2="57.00" y2="270.30" stroke="#222222" stroke-width="1.5"/>
<line x1="462.5" y1="270.30" x2="457.7" y2="270.30" stroke="#222222" stroke-width="1.5"/>
<text x="47.7" y="274.50" font-size="10" text-anchor="end">100</text>
<rect x="53.2" y="257.0" width="44.7" height="76.5" fill="#f26a2f" fill-opacity="0.2"/>
<line x1="97.4" y1="257.0" x2="97.4" y2="333.5" stroke="#f26a2f" stroke-opacity="0.15" stroke-width="1"/>
<line x1="54.5" y1="257.0" x2="54.5" y2="333.5" stroke="#f26a2f" stroke-opacity="0.12" stroke-width="1"/>
<rect x="363.0" y="259.1" width="34.7" height="74.4" fill="#6b9a2a" fill-opacity="0.2"/>
<line x1="363.5" y1="259.1" x2="363.5" y2="333.5" stroke="#6b9a2a" stroke-opacity="0.12" stroke-width="1"/>
<line x1="397.2" y1="259.1" x2="397.2" y2="333.5" stroke="#6b9a2a" stroke-opacity="0.08" stroke-width="1"/>
<line x1="76.50" y1="376.00" x2="76.50" y2="450.20" stroke="#d6d6d6" stroke-width="1" stroke-dasharray="1,2"/>
<line x1="135.50" y1="376.00" x2="135.50" y2="450.20" stroke="#d6d6d6" stroke-width="1" stroke-dasharray="1,2"/>
<line x1="193.50" y1="376.00" x2="193.50" y2="450.20" stroke="#d6d6d6" stroke-width="1" stroke-dasharray="1,2"/>
<line x1="252.50" y1="376.00" x2="252.50" y2="450.20" stroke="#d6d6d6" stroke-width="1" stroke-dasharray="1,2"/>
<line x1="311.50" y1="376.00" x2="311.50" y2="450.20" stroke="#d6d6d6" stroke-width="1" stroke-dasharray="1,2"/>
<line x1="369.50" y1="376.00" x2="369.50" y2="450.20" stroke="#d6d6d6" stroke-width="1" stroke-dasharray="1,2"/>
<line x1="428.50" y1="376.00" x2="428.50" y2="450.20" stroke="#d6d6d6" stroke-width="1" stroke-dasharray="1,2"/>
<line x1="53" y1="428.50" x2="462.5" y2="428.50" stroke="#d6d6d6" stroke-width="1" stroke-dasharray="1,2"/>
<line x1="53" y1="407.50" x2="462.5" y2="407.50" stroke="#d6d6d6" stroke-width="1" stroke-dasharray="1,2"/>
<line x1="53" y1="386.50" x2="462.5" y2="386.50" stroke="#d6d6d6" stroke-width="1" stroke-dasharray="1,2"/>
<path d="M72.2 413.2H77.8M75.0 413.2V430.1M72.2 430.1H77.8" stroke="#00ff00" stroke-opacity="0.5" stroke-width="1.0" fill="none"/>
<path d="M72.2 416.0H77.8M75.0 416.0V424.0M72.2 424.0H77.8" stroke="#0000ff" stroke-opacity="0.4" stroke-width="1.0" fill="none"/>
<path d="M88.2 406.3H93.8M91.0 406.3V413.0M88.2 413.0H93.8" stroke="#00ff00" stroke-opacity="0.5" stroke-width="1.0" fill="none"/>
<path d="M122.2 402.5H127.8M125.0 402.5V408.0M122.2 408.0H127.8" stroke="#0000ff" stroke-opacity="0.6" stroke-width="1.0" fill="none"/>
<path d="M370.2 420.6H375.8M373.0 420.6V430.0M370.2 430.0H375.8" stroke="#0000ff" stroke-opacity="0.6" stroke-width="1.0" fill="none"/>
<path d="M414.8 406.0H420.4M417.6 406.0V400.0M414.8 400.0H420.4" stroke="#00ff00" stroke-opacity="0.5" stroke-width="1.0" fill="none"/>
<path d="M414.8 383.5H420.4M417.6 383.5V388.0M414.8 388.0H420.4" stroke="#0000ff" stroke-opacity="0.6" stroke-width="1.0" fill="none"/>
<rect x="54.9" y="438.2" width="5.7" height="6.3" fill="#00ff00"/>
<rect x="54.9" y="444.0" width="5.7" height="0.8" fill="#0000ff"/>
<rect x="61.0" y="437.0" width="5.4" height="6.3" fill="#0000ff"/>
<rect x="63.5" y="431.8" width="5.8" height="5.8" fill="#00ff00"/>
<rect x="60.6" y="444.5" width="5.8" height="6.9" fill="#00ff00"/>
<rect x="64.1" y="440.0" width="5.7" height="6.8" fill="#00ff00"/>
<rect x="69.3" y="434.1" width="8.6" height="4.6" fill="#0000ff"/>
<rect x="69.3" y="438.2" width="8.6" height="10.3" fill="#00ff00"/>
<rect x="66.4" y="442.8" width="8.0" height="5.2" fill="#00ff00"/>
<rect x="71.6" y="417.8" width="6.3" height="0.8" fill="#0000ff"/>
<rect x="71.6" y="418.6" width="6.3" height="5.8" fill="#00ff00"/>
<rect x="80.2" y="435.3" width="5.2" height="9.7" fill="#00ff00"/>
<rect x="80.2" y="444.6" width="5.2" height="0.8" fill="#0000ff"/>
<rect x="88.8" y="407.7" width="5.8" height="5.7" fill="#00ff00"/>
<rect x="87.1" y="412.9" width="7.5" height="5.7" fill="#00ff00"/>
<rect x="88.8" y="419.8" width="5.2" height="10.3" fill="#00ff00"/>
<rect x="91.7" y="431.3" width="2.9" height="5.7" fill="#0000ff"/>
<rect x="87.1" y="430.7" width="5.2" height="5.8" fill="#00ff00"/>
<rect x="87.1" y="436.5" width="5.2" height="2.2" fill="#0000ff"/>
<rect x="114.0" y="393.9" width="5.8" height="17.3" fill="#00ff00"/>
<rect x="114.0" y="412.9" width="5.8" height="2.9" fill="#0000ff"/>
<rect x="114.0" y="415.8" width="5.8" height="5.2" fill="#00ff00"/>
<rect x="114.0" y="421.0" width="5.8" height="5.7" fill="#0000ff"/>
<rect x="122.1" y="405.4" width="5.8" height="5.2" fill="#0000ff"/>
<rect x="122.1" y="411.7" width="5.8" height="9.8" fill="#00ff00"/>
<rect x="138.8" y="431.3" width="5.8" height="2.9" fill="#0000ff"/>
<rect x="138.8" y="434.2" width="5.8" height="11.0" fill="#00ff00"/>
<rect x="138.8" y="444.6" width="5.8" height="2.3" fill="#0000ff"/>
<rect x="146.9" y="434.2" width="6.3" height="9.8" fill="#00ff00"/>
<rect x="144.0" y="437.1" width="5.7" height="10.9" fill="#00ff00"/>
<rect x="197.3" y="435.2" width="5.6" height="8.0" fill="#00ff00"/>
<rect x="197.3" y="442.8" width="5.6" height="0.8" fill="#0000ff"/>
<rect x="228.0" y="426.4" width="5.6" height="4.8" fill="#0000ff"/>
<rect x="231.2" y="430.4" width="5.6" height="4.0" fill="#0000ff"/>
<rect x="236.0" y="435.2" width="5.6" height="4.0" fill="#0000ff"/>
<rect x="243.2" y="437.6" width="7.2" height="4.8" fill="#0000ff"/>
<rect x="228.0" y="433.6" width="5.6" height="12.8" fill="#00ff00"/>
<rect x="232.8" y="436.8" width="4.8" height="10.4" fill="#00ff00"/>
<rect x="238.4" y="439.2" width="7.2" height="8.8" fill="#00ff00"/>
<rect x="244.8" y="443.2" width="5.6" height="6.4" fill="#00ff00"/>
<rect x="238.5" y="448.0" width="4.0" height="2.0" fill="#0000ff"/>
<rect x="345.4" y="419.4" width="5.6" height="21.0" fill="#00ff00"/>
<rect x="345.4" y="425.4" width="5.6" height="3.0" fill="#0000ff"/>
<rect x="370.6" y="424.8" width="5.4" height="7.8" fill="#0000ff"/>
<rect x="373.6" y="431.4" width="5.4" height="3.0" fill="#0000ff"/>
<rect x="379.0" y="433.2" width="4.8" height="4.8" fill="#0000ff"/>
<rect x="373.0" y="435.0" width="6.0" height="7.8" fill="#00ff00"/>
<rect x="370.6" y="439.8" width="5.4" height="7.8" fill="#00ff00"/>
<rect x="378.4" y="440.4" width="5.4" height="5.4" fill="#00ff00"/>
<rect x="415.0" y="387.0" width="5.2" height="4.0" fill="#0000ff"/>
<rect x="415.0" y="391.0" width="5.2" height="12.7" fill="#00ff00"/>
<rect x="420.2" y="418.1" width="5.8" height="5.7" fill="#0000ff"/>
<rect x="420.2" y="427.9" width="5.8" height="5.2" fill="#00ff00"/>
<rect x="407.0" y="434.2" width="5.1" height="2.3" fill="#0000ff"/>
<rect x="403.5" y="436.5" width="3.5" height="2.9" fill="#0000ff"/>
<rect x="407.0" y="436.5" width="5.1" height="6.9" fill="#00ff00"/>
<rect x="403.5" y="440.0" width="5.7" height="5.2" fill="#00ff00"/>
<rect x="403.5" y="447.5" width="5.4" height="5.1" fill="#00ff00"/>
<rect x="52.2" y="375.3" width="410.30" height="74.90" fill="none" stroke="#222222" stroke-width="1.5"/>
<line x1="76.70" y1="450.2" x2="76.70" y2="445.40" stroke="#222222" stroke-width="1.5"/>
<line x1="76.70" y1="375.3" x2="76.70" y2="380.10" stroke="#222222" stroke-width="1.5"/>
<text x="76.70" y="465.20" font-size="10" text-anchor="middle">07/20</text>
<line x1="135.29" y1="450.2" x2="135.29" y2="445.40" stroke="#222222" stroke-width="1.5"/>
<line x1="135.29" y1="375.3" x2="135.29" y2="380.10" stroke="#222222" stroke-width="1.5"/>
<text x="135.29" y="465.20" font-size="10" text-anchor="middle">07/27</text>
<line x1="193.88" y1="450.2" x2="193.88" y2="445.40" stroke="#222222" stroke-width="1.5"/>
<line x1="193.88" y1="375.3" x2="193.88" y2="380.10" stroke="#222222" stroke-width="1.5"/>
<text x="193.88" y="465.20" font-size="10" text-anchor="middle">08/03</text>
<line x1="252.47" y1="450.2" x2="252.47" y2="445.40" stroke="#222222" stroke-width="1.5"/>
<line x1="252.47" y1="375.3" x2="252.47" y2="380.10" stroke="#222222" stroke-width="1.5"/>
<text x="252.47" y="465.20" font-size="10" text-anchor="middle">08/10</text>
<line x1="311.06" y1="450.2" x2="311.06" y2="445.40" stroke="#222222" stroke-width="1.5"/>
<line x1="311.06" y1="375.3" x2="311.06" y2="380.10" stroke="#222222" stroke-width="1.5"/>
<text x="311.06" y="465.20" font-size="10" text-anchor="middle">08/17</text>
<line x1="369.65" y1="450.2" x2="369.65" y2="445.40" stroke="#222222" stroke-width="1.5"/>
<line x1="369.65" y1="375.3" x2="369.65" y2="380.10" stroke="#222222" stroke-width="1.5"/>
<text x="369.65" y="465.20" font-size="10" text-anchor="middle">08/24</text>
<line x1="428.24" y1="450.2" x2="428.24" y2="445.40" stroke="#222222" stroke-width="1.5"/>
<line x1="428.24" y1="375.3" x2="428.24" y2="380.10" stroke="#222222" stroke-width="1.5"/>
<text x="428.24" y="465.20" font-size="10" text-anchor="middle">08/31</text>
<line x1="52.2" y1="450.20" x2="57.00" y2="450.20" stroke="#222222" stroke-width="1.5"/>
<line x1="462.5" y1="450.20" x2="457.7" y2="450.20" stroke="#222222" stroke-width="1.5"/>
<text x="47.7" y="454.40" font-size="10" text-anchor="end">0</text>
<line x1="52.2" y1="428.80" x2="57.00" y2="428.80" stroke="#222222" stroke-width="1.5"/>
<line x1="462.5" y1="428.80" x2="457.7" y2="428.80" stroke="#222222" stroke-width="1.5"/>
<text x="47.7" y="433.00" font-size="10" text-anchor="end">10</text>
<line x1="52.2" y1="407.40" x2="57.00" y2="407.40" stroke="#222222" stroke-width="1.5"/>
<line x1="462.5" y1="407.40" x2="457.7" y2="407.40" stroke="#222222" stroke-width="1.5"/>
<text x="47.7" y="411.60" font-size="10" text-anchor="end">20</text>
<line x1="52.2" y1="386.00" x2="57.00" y2="386.00" stroke="#222222" stroke-width="1.5"/>
<line x1="462.5" y1="386.00" x2="457.7" y2="386.00" stroke="#222222" stroke-width="1.5"/>
<text x="47.7" y="390.20" font-size="10" text-anchor="end">30</text>
<rect x="53.6" y="373.0" width="45.3" height="76.1" fill="#f26a2f" fill-opacity="0.2"/>
<line x1="98.4" y1="373.0" x2="98.4" y2="449.1" stroke="#f26a2f" stroke-opacity="0.15" stroke-width="1"/>
<line x1="54.9" y1="373.0" x2="54.9" y2="449.1" stroke="#f26a2f" stroke-opacity="0.12" stroke-width="1"/>
<rect x="359.9" y="372.2" width="33.9" height="76.9" fill="#6b9a2a" fill-opacity="0.2"/>
<line x1="360.4" y1="372.2" x2="360.4" y2="449.1" stroke="#6b9a2a" stroke-opacity="0.12" stroke-width="1"/>
<line x1="393.3" y1="372.2" x2="393.3" y2="449.1" stroke="#6b9a2a" stroke-opacity="0.08" stroke-width="1"/>
<line x1="76.50" y1="491.00" x2="76.50" y2="564.50" stroke="#d6d6d6" stroke-width="1" stroke-dasharray="1,2"/>
<line x1="135.50" y1="491.00" x2="135.50" y2="564.50" stroke="#d6d6d6" stroke-width="1" stroke-dasharray="1,2"/>
<line x1="193.50" y1="491.00" x2="193.50" y2="564.50" stroke="#d6d6d6" stroke-width="1" stroke-dasharray="1,2"/>
<line x1="252.50" y1="491.00" x2="252.50" y2="564.50" stroke="#d6d6d6" stroke-width="1" stroke-dasharray="1,2"/>
<line x1="311.50" y1="491.00" x2="311.50" y2="564.50" stroke="#d6d6d6" stroke-width="1" stroke-dasharray="1,2"/>
<line x1="369.50" y1="491.00" x2="369.50" y2="564.50" stroke="#d6d6d6" stroke-width="1" stroke-dasharray="1,2"/>
<line x1="428.50" y1="491.00" x2="428.50" y2="564.50" stroke="#d6d6d6" stroke-width="1" stroke-dasharray="1,2"/>
<line x1="53" y1="530.50" x2="462.5" y2="530.50" stroke="#d6d6d6" stroke-width="1" stroke-dasharray="1,2"/>
<line x1="53" y1="497.50" x2="462.5" y2="497.50" stroke="#d6d6d6" stroke-width="1" stroke-dasharray="1,2"/>
<path d="M88.5 490.2H94.1M91.3 490.2V509.4M88.5 509.4H94.1" stroke="#000000" stroke-opacity="0.8" stroke-width="1.0" fill="none"/>
<path d="M114.0 513.8H119.6M116.8 513.8V520.0M114.0 520.0H119.6" stroke="#000000" stroke-opacity="0.5" stroke-width="1.0" fill="none"/>
<path d="M147.5 532.2H153.1M150.3 532.2V540.6M147.5 540.6H153.1" stroke="#000000" stroke-opacity="0.6" stroke-width="1.0" fill="none"/>
<path d="M364.8 536.4H370.4M367.6 536.4V540.0M364.8 540.0H370.4" stroke="#000000" stroke-opacity="0.6" stroke-width="1.0" fill="none"/>
<path d="M54.6 535.2H60.2M57.4 535.2V543.0M54.6 543.0H60.2" stroke="#ff00ff" stroke-opacity="0.6" stroke-width="1.0" fill="none"/>
<path d="M78.0 532.6H83.6M80.8 532.6V541.2M78.0 541.2H83.6" stroke="#ff00ff" stroke-opacity="0.6" stroke-width="1.0" fill="none"/>
<path d="M87.0 530.6H92.6M89.8 530.6V539.4M87.0 539.4H92.6" stroke="#ff00ff" stroke-opacity="0.6" stroke-width="1.0" fill="none"/>
<path d="M94.8 533.4H100.4M97.6 533.4V541.5M94.8 541.5H100.4" stroke="#ff00ff" stroke-opacity="0.6" stroke-width="1.0" fill="none"/>
<path d="M103.2 524.4H108.8M106.0 524.4V535.2M103.2 535.2H108.8" stroke="#ff00ff" stroke-opacity="0.6" stroke-width="1.0" fill="none"/>
<path d="M114.0 524.2H119.6M116.8 524.2V534.4M114.0 534.4H119.6" stroke="#ff00ff" stroke-opacity="0.6" stroke-width="1.0" fill="none"/>
<path d="M122.0 537.0H127.6M124.8 537.0V543.0M122.0 543.0H127.6" stroke="#ff00ff" stroke-opacity="0.6" stroke-width="1.0" fill="none"/>
<path d="M128.0 531.6H133.6M130.8 531.6V539.4M128.0 539.4H133.6" stroke="#ff00ff" stroke-opacity="0.6" stroke-width="1.0" fill="none"/>
<path d="M138.8 519.4H144.4M141.6 519.4V531.4M138.8 531.4H144.4" stroke="#ff00ff" stroke-opacity="0.6" stroke-width="1.0" fill="none"/>
<path d="M144.2 529.8H149.8M147.0 529.8V538.8M144.2 538.8H149.8" stroke="#ff00ff" stroke-opacity="0.6" stroke-width="1.0" fill="none"/>
<path d="M197.2 538.5H202.8M200.0 538.5V545.5M197.2 545.5H202.8" stroke="#ff00ff" stroke-opacity="0.6" stroke-width="1.0" fill="none"/>
<path d="M227.6 530.5H233.2M230.4 530.5V539.0M227.6 539.0H233.2" stroke="#ff00ff" stroke-opacity="0.6" stroke-width="1.0" fill="none"/>
<path d="M236.1 527.6H241.7M238.9 527.6V537.5M236.1 537.5H241.7" stroke="#ff00ff" stroke-opacity="0.6" stroke-width="1.0" fill="none"/>
<path d="M244.4 530.5H250.0M247.2 530.5V539.0M244.4 539.0H250.0" stroke="#ff00ff" stroke-opacity="0.6" stroke-width="1.0" fill="none"/>
<path d="M345.4 525.9H351.0M348.2 525.9V536.2M345.4 536.2H351.0" stroke="#ff00ff" stroke-opacity="0.6" stroke-width="1.0" fill="none"/>
<path d="M354.4 528.3H360.0M357.2 528.3V538.2M354.4 538.2H360.0" stroke="#ff00ff" stroke-opacity="0.6" stroke-width="1.0" fill="none"/>
<path d="M378.4 539.4H384.0M381.2 539.4V545.0M378.4 545.0H384.0" stroke="#ff00ff" stroke-opacity="0.6" stroke-width="1.0" fill="none"/>
<path d="M403.4 540.6H409.0M406.2 540.6V546.0M403.4 546.0H409.0" stroke="#ff00ff" stroke-opacity="0.6" stroke-width="1.0" fill="none"/>
<path d="M414.8 531.4H420.4M417.6 531.4V540.3M414.8 540.3H420.4" stroke="#ff00ff" stroke-opacity="0.6" stroke-width="1.0" fill="none"/>
<path d="M420.2 522.3H425.8M423.0 522.3V534.0M420.2 534.0H425.8" stroke="#ff00ff" stroke-opacity="0.6" stroke-width="1.0" fill="none"/>
<rect x="61.0" y="537.6" width="4.8" height="4.8" fill="#000000"/>
<rect x="60.6" y="554.4" width="5.6" height="6.0" fill="#000000"/>
<rect x="72.6" y="548.4" width="5.2" height="4.8" fill="#000000"/>
<rect x="72.6" y="556.8" width="5.2" height="4.8" fill="#000000"/>
<rect x="88.6" y="537.6" width="5.4" height="5.4" fill="#000000"/>
<rect x="88.6" y="545.4" width="5.4" height="6.0" fill="#000000"/>
<rect x="88.6" y="497.0" width="5.4" height="5.2" fill="#000000"/>
<rect x="114.0" y="517.8" width="5.6" height="5.4" fill="#000000"/>
<rect x="114.0" y="547.8" width="5.6" height="4.8" fill="#000000"/>
<rect x="122.2" y="545.4" width="5.6" height="8.4" fill="#000000"/>
<rect x="139.2" y="537.6" width="5.4" height="12.0" fill="#000000"/>
<rect x="139.2" y="552.0" width="5.4" height="5.4" fill="#000000"/>
<rect x="147.6" y="533.4" width="5.4" height="5.4" fill="#000000"/>
<rect x="147.6" y="546.0" width="5.4" height="5.4" fill="#000000"/>
<rect x="365.2" y="537.0" width="4.8" height="3.6" fill="#000000"/>
<rect x="375.4" y="547.2" width="3.6" height="4.6" fill="#000000"/>
<rect x="365.0" y="553.5" width="5.0" height="7.5" fill="#000000"/>
<rect x="373.4" y="554.4" width="5.6" height="7.8" fill="#000000"/>
<rect x="381.4" y="552.0" width="5.4" height="6.6" fill="#000000"/>
<rect x="406.8" y="546.0" width="5.4" height="11.4" fill="#000000"/>
<rect x="415.0" y="543.0" width="5.0" height="8.4" fill="#000000"/>
<rect x="415.0" y="552.6" width="5.0" height="5.4" fill="#000000"/>
<circle cx="57.4" cy="539.4" r="3.4" fill="#ff00ff"/>
<circle cx="63.4" cy="544.8" r="3.4" fill="#ff00ff"/>
<circle cx="71.8" cy="542.4" r="3.4" fill="#ff00ff"/>
<circle cx="80.8" cy="537.0" r="3.4" fill="#ff00ff"/>
<circle cx="89.8" cy="535.0" r="3.4" fill="#ff00ff"/>
<circle cx="97.6" cy="537.4" r="3.4" fill="#ff00ff"/>
<circle cx="106.0" cy="529.8" r="3.4" fill="#ff00ff"/>
<circle cx="116.8" cy="529.2" r="3.4" fill="#ff00ff"/>
<circle cx="124.8" cy="540.3" r="3.4" fill="#ff00ff"/>
<circle cx="130.8" cy="535.2" r="3.4" fill="#ff00ff"/>
<circle cx="141.6" cy="525.4" r="3.4" fill="#ff00ff"/>
<circle cx="147.0" cy="534.6" r="3.4" fill="#ff00ff"/>
<circle cx="200.0" cy="542.0" r="3.4" fill="#ff00ff"/>
<circle cx="230.4" cy="534.8" r="3.4" fill="#ff00ff"/>
<circle cx="238.9" cy="532.7" r="3.4" fill="#ff00ff"/>
<circle cx="247.2" cy="534.8" r="3.4" fill="#ff00ff"/>
<circle cx="348.2" cy="531.0" r="3.4" fill="#ff00ff"/>
<circle cx="357.2" cy="533.4" r="3.4" fill="#ff00ff"/>
<circle cx="367.6" cy="543.4" r="3.4" fill="#ff00ff"/>
<circle cx="373.4" cy="548.4" r="3.4" fill="#ff00ff"/>
<circle cx="381.2" cy="542.4" r="3.4" fill="#ff00ff"/>
<circle cx="399.0" cy="550.6" r="3.4" fill="#ff00ff"/>
<circle cx="406.2" cy="543.4" r="3.4" fill="#ff00ff"/>
<circle cx="417.6" cy="535.5" r="3.4" fill="#ff00ff"/>
<circle cx="423.0" cy="528.0" r="3.4" fill="#ff00ff"/>
<rect x="52.2" y="490.5" width="410.30" height="74.00" fill="none" stroke="#222222" stroke-width="1.5"/>
<line x1="76.70" y1="564.5" x2="76.70" y2="559.70" stroke="#222222" stroke-width="1.5"/>
<line x1="76.70" y1="490.5" x2="76.70" y2="495.30" stroke="#222222" stroke-width="1.5"/>
<text x="76.70" y="579.50" font-size="10" text-anchor="middle">07/20</text>
<line x1="135.29" y1="564.5" x2="135.29" y2="559.70" stroke="#222222" stroke-width="1.5"/>
<line x1="135.29" y1="490.5" x2="135.29" y2="495.30" stroke="#222222" stroke-width="1.5"/>
<text x="135.29" y="579.50" font-size="10" text-anchor="middle">07/27</text>
<line x1="193.88" y1="564.5" x2="193.88" y2="559.70" stroke="#222222" stroke-width="1.5"/>
<line x1="193.88" y1="490.5" x2="193.88" y2="495.30" stroke="#222222" stroke-width="1.5"/>
<text x="193.88" y="579.50" font-size="10" text-anchor="middle">08/03</text>
<line x1="252.47" y1="564.5" x2="252.47" y2="559.70" stroke="#222222" stroke-width="1.5"/>
<line x1="252.47" y1="490.5" x2="252.47" y2="495.30" stroke="#222222" stroke-width="1.5"/>
<text x="252.47" y="579.50" font-size="10" text-anchor="middle">08/10</text>
<line x1="311.06" y1="564.5" x2="311.06" y2="559.70" stroke="#222222" stroke-width="1.5"/>
<line x1="311.06" y1="490.5" x2="311.06" y2="495.30" stroke="#222222" stroke-width="1.5"/>
<text x="311.06" y="579.50" font-size="10" text-anchor="middle">08/17</text>
<line x1="369.65" y1="564.5" x2="369.65" y2="559.70" stroke="#222222" stroke-width="1.5"/>
<line x1="369.65" y1="490.5" x2="369.65" y2="495.30" stroke="#222222" stroke-width="1.5"/>
<text x="369.65" y="579.50" font-size="10" text-anchor="middle">08/24</text>
<line x1="428.24" y1="564.5" x2="428.24" y2="559.70" stroke="#222222" stroke-width="1.5"/>
<line x1="428.24" y1="490.5" x2="428.24" y2="495.30" stroke="#222222" stroke-width="1.5"/>
<text x="428.24" y="579.50" font-size="10" text-anchor="middle">08/31</text>
<line x1="52.2" y1="564.50" x2="57.00" y2="564.50" stroke="#222222" stroke-width="1.5"/>
<line x1="462.5" y1="564.50" x2="457.7" y2="564.50" stroke="#222222" stroke-width="1.5"/>
<text x="47.7" y="568.70" font-size="10" text-anchor="end">0</text>
<line x1="52.2" y1="530.86" x2="57.00" y2="530.86" stroke="#222222" stroke-width="1.5"/>
<line x1="462.5" y1="530.86" x2="457.7" y2="530.86" stroke="#222222" stroke-width="1.5"/>
<text x="47.7" y="535.06" font-size="10" text-anchor="end">0.5</text>
<line x1="52.2" y1="497.23" x2="57.00" y2="497.23" stroke="#222222" stroke-width="1.5"/>
<line x1="462.5" y1="497.23" x2="457.7" y2="497.23" stroke="#222222" stroke-width="1.5"/>
<text x="47.7" y="501.43" font-size="10" text-anchor="end">1</text>
<rect x="53.6" y="490.8" width="44.3" height="74.2" fill="#f26a2f" fill-opacity="0.2"/>
<line x1="97.4" y1="490.8" x2="97.4" y2="565.0" stroke="#f26a2f" stroke-opacity="0.15" stroke-width="1"/>
<line x1="54.9" y1="490.8" x2="54.9" y2="565.0" stroke="#f26a2f" stroke-opacity="0.12" stroke-width="1"/>
<rect x="353.9" y="491.1" width="39.0" height="73.9" fill="#6b9a2a" fill-opacity="0.2"/>
<line x1="354.4" y1="491.1" x2="354.4" y2="565.0" stroke="#6b9a2a" stroke-opacity="0.12" stroke-width="1"/>
<line x1="392.4" y1="491.1" x2="392.4" y2="565.0" stroke="#6b9a2a" stroke-opacity="0.08" stroke-width="1"/>
<line x1="76.50" y1="602.00" x2="76.50" y2="677.00" stroke="#d6d6d6" stroke-width="1" stroke-dasharray="1,2"/>
<line x1="135.50" y1="602.00" x2="135.50" y2="677.00" stroke="#d6d6d6" stroke-width="1" stroke-dasharray="1,2"/>
<line x1="193.50" y1="602.00" x2="193.50" y2="677.00" stroke="#d6d6d6" stroke-width="1" stroke-dasharray="1,2"/>
<line x1="252.50" y1="602.00" x2="252.50" y2="677.00" stroke="#d6d6d6" stroke-width="1" stroke-dasharray="1,2"/>
<line x1="311.50" y1="602.00" x2="311.50" y2="677.00" stroke="#d6d6d6" stroke-width="1" stroke-dasharray="1,2"/>
<line x1="369.50" y1="602.00" x2="369.50" y2="677.00" stroke="#d6d6d6" stroke-width="1" stroke-dasharray="1,2"/>
<line x1="428.50" y1="602.00" x2="428.50" y2="677.00" stroke="#d6d6d6" stroke-width="1" stroke-dasharray="1,2"/>
<line x1="53" y1="652.50" x2="462.5" y2="652.50" stroke="#d6d6d6" stroke-width="1" stroke-dasharray="1,2"/>
<line x1="53" y1="628.50" x2="462.5" y2="628.50" stroke="#d6d6d6" stroke-width="1" stroke-dasharray="1,2"/>
<line x1="53" y1="604.50" x2="462.5" y2="604.50" stroke="#d6d6d6" stroke-width="1" stroke-dasharray="1,2"/>
<path d="M60.7 609.5H66.3M63.5 609.5V654.4M60.7 654.4H66.3" stroke="#0000ff" stroke-opacity="0.6" stroke-width="1.0" fill="none"/>
<path d="M60.7 611.6H66.3M63.5 611.6V648.4M60.7 648.4H66.3" stroke="#ff0000" stroke-opacity="0.6" stroke-width="1.0" fill="none"/>
<path d="M60.7 617.3H66.3M63.5 617.3V640.0M60.7 640.0H66.3" stroke="#ff0000" stroke-opacity="0.5" stroke-width="1.0" fill="none"/>
<path d="M60.7 658.4H66.3M63.5 658.4V670.7M60.7 670.7H66.3" stroke="#0000ff" stroke-opacity="0.6" stroke-width="1.0" fill="none"/>
<path d="M72.5 609.5H78.1M75.3 609.5V643.5M72.5 643.5H78.1" stroke="#ff0000" stroke-opacity="0.6" stroke-width="1.0" fill="none"/>
<path d="M72.5 645.0H78.1M75.3 645.0V670.3M72.5 670.3H78.1" stroke="#0000ff" stroke-opacity="0.6" stroke-width="1.0" fill="none"/>
<path d="M88.6 613.5H94.2M91.4 613.5V646.1M88.6 646.1H94.2" stroke="#ff0000" stroke-opacity="0.6" stroke-width="1.0" fill="none"/>
<path d="M88.6 615.0H94.2M91.4 615.0V630.0M88.6 630.0H94.2" stroke="#ff0000" stroke-opacity="0.5" stroke-width="1.0" fill="none"/>
<path d="M88.6 646.1H94.2M91.4 646.1V666.8M88.6 666.8H94.2" stroke="#0000ff" stroke-opacity="0.6" stroke-width="1.0" fill="none"/>
<path d="M88.6 650.0H94.2M91.4 650.0V663.0M88.6 663.0H94.2" stroke="#0000ff" stroke-opacity="0.5" stroke-width="1.0" fill="none"/>
<path d="M114.1 613.2H119.7M116.9 613.2V655.6M114.1 655.6H119.7" stroke="#0000ff" stroke-opacity="0.6" stroke-width="1.0" fill="none"/>
<path d="M114.1 608.6H119.7M116.9 608.6V651.2M114.1 651.2H119.7" stroke="#ff0000" stroke-opacity="0.6" stroke-width="1.0" fill="none"/>
<path d="M114.1 630.5H119.7M116.9 630.5V640.0M114.1 640.0H119.7" stroke="#ff0000" stroke-opacity="0.5" stroke-width="1.0" fill="none"/>
<path d="M114.1 657.3H119.7M116.9 657.3V670.3M114.1 670.3H119.7" stroke="#0000ff" stroke-opacity="0.6" stroke-width="1.0" fill="none"/>
<path d="M122.2 611.8H127.8M125.0 611.8V657.3M122.2 657.3H127.8" stroke="#ff0000" stroke-opacity="0.6" stroke-width="1.0" fill="none"/>
<path d="M122.2 618.7H127.8M125.0 618.7V663.4M122.2 663.4H127.8" stroke="#0000ff" stroke-opacity="0.6" stroke-width="1.0" fill="none"/>
<path d="M122.2 640.0H127.8M125.0 640.0V659.6M122.2 659.6H127.8" stroke="#0000ff" stroke-opacity="0.5" stroke-width="1.0" fill="none"/>
<path d="M139.2 608.6H144.8M142.0 608.6V632.3M139.2 632.3H144.8" stroke="#ff0000" stroke-opacity="0.6" stroke-width="1.0" fill="none"/>
<path d="M139.2 611.2H144.8M142.0 611.2V630.5M139.2 630.5H144.8" stroke="#ff0000" stroke-opacity="0.5" stroke-width="1.0" fill="none"/>
<path d="M139.2 652.1H144.8M142.0 652.1V670.8M139.2 670.8H144.8" stroke="#0000ff" stroke-opacity="0.6" stroke-width="1.0" fill="none"/>
<path d="M139.2 654.2H144.8M142.0 654.2V668.9M139.2 668.9H144.8" stroke="#0000ff" stroke-opacity="0.5" stroke-width="1.0" fill="none"/>
<path d="M147.3 608.4H152.9M150.1 608.4V639.2M147.3 639.2H152.9" stroke="#ff0000" stroke-opacity="0.6" stroke-width="1.0" fill="none"/>
<path d="M147.3 645.0H152.9M150.1 645.0V667.1M147.3 667.1H152.9" stroke="#0000ff" stroke-opacity="0.6" stroke-width="1.0" fill="none"/>
<path d="M147.3 650.0H152.9M150.1 650.0V661.4M147.3 661.4H152.9" stroke="#0000ff" stroke-opacity="0.5" stroke-width="1.0" fill="none"/>
<path d="M364.6 602.4H370.2M367.4 602.4V661.9M364.6 661.9H370.2" stroke="#0000ff" stroke-opacity="0.6" stroke-width="1.0" fill="none"/>
<path d="M364.6 613.0H370.2M367.4 613.0V676.3M364.6 676.3H370.2" stroke="#ff0000" stroke-opacity="0.6" stroke-width="1.0" fill="none"/>
<path d="M364.6 618.2H370.2M367.4 618.2V654.5M364.6 654.5H370.2" stroke="#ff0000" stroke-opacity="0.5" stroke-width="1.0" fill="none"/>
<path d="M364.6 615.3H370.2M367.4 615.3V651.0M364.6 651.0H370.2" stroke="#0000ff" stroke-opacity="0.5" stroke-width="1.0" fill="none"/>
<path d="M364.6 640.0H370.2M367.4 640.0V660.2M364.6 660.2H370.2" stroke="#0000ff" stroke-opacity="0.5" stroke-width="1.0" fill="none"/>
<path d="M364.6 640.0H370.2M367.4 640.0V656.2M364.6 656.2H370.2" stroke="#ff0000" stroke-opacity="0.5" stroke-width="1.0" fill="none"/>
<path d="M373.4 614.4H379.0M376.2 614.4V648.7M373.4 648.7H379.0" stroke="#ff0000" stroke-opacity="0.6" stroke-width="1.0" fill="none"/>
<path d="M373.4 619.3H379.0M376.2 619.3V665.4M373.4 665.4H379.0" stroke="#0000ff" stroke-opacity="0.6" stroke-width="1.0" fill="none"/>
<path d="M373.4 641.8H379.0M376.2 641.8V660.0M373.4 660.0H379.0" stroke="#0000ff" stroke-opacity="0.5" stroke-width="1.0" fill="none"/>
<path d="M373.4 644.1H379.0M376.2 644.1V660.0M373.4 660.0H379.0" stroke="#0000ff" stroke-opacity="0.5" stroke-width="1.0" fill="none"/>
<path d="M381.6 610.4H387.2M384.4 610.4V632.0M381.6 632.0H387.2" stroke="#ff0000" stroke-opacity="0.6" stroke-width="1.0" fill="none"/>
<path d="M381.6 659.9H387.2M384.4 659.9V671.2M381.6 671.2H387.2" stroke="#0000ff" stroke-opacity="0.6" stroke-width="1.0" fill="none"/>
<path d="M406.7 611.2H412.3M409.5 611.2V636.0M406.7 636.0H412.3" stroke="#ff0000" stroke-opacity="0.6" stroke-width="1.0" fill="none"/>
<path d="M406.7 614.7H412.3M409.5 614.7V630.0M406.7 630.0H412.3" stroke="#ff0000" stroke-opacity="0.5" stroke-width="1.0" fill="none"/>
<path d="M406.7 638.6H412.3M409.5 638.6V670.0M406.7 670.0H412.3" stroke="#0000ff" stroke-opacity="0.6" stroke-width="1.0" fill="none"/>
<path d="M406.7 656.2H412.3M409.5 656.2V668.3M406.7 668.3H412.3" stroke="#0000ff" stroke-opacity="0.5" stroke-width="1.0" fill="none"/>
<path d="M414.8 624.5H420.4M417.6 624.5V665.4M414.8 665.4H420.4" stroke="#0000ff" stroke-opacity="0.6" stroke-width="1.0" fill="none"/>
<path d="M414.8 627.4H420.4M417.6 627.4V660.2M414.8 660.2H420.4" stroke="#ff0000" stroke-opacity="0.6" stroke-width="1.0" fill="none"/>
<rect x="61.0" y="619.3" width="5.0" height="5.7" fill="#ff0000"/>
<rect x="61.0" y="625.6" width="5.0" height="5.8" fill="#ff0000"/>
<rect x="61.0" y="630.8" width="5.0" height="4.0" fill="#0000ff"/>
<rect x="61.0" y="634.8" width="5.0" height="5.8" fill="#ff0000"/>
<rect x="61.0" y="661.9" width="5.0" height="5.7" fill="#0000ff"/>
<rect x="72.7" y="617.6" width="5.2" height="5.1" fill="#ff0000"/>
<rect x="72.7" y="630.2" width="5.2" height="5.2" fill="#ff0000"/>
<rect x="72.7" y="653.2" width="5.2" height="4.6" fill="#0000ff"/>
<rect x="72.7" y="661.0" width="5.2" height="4.9" fill="#0000ff"/>
<rect x="88.8" y="622.2" width="5.2" height="6.9" fill="#ff0000"/>
<rect x="88.8" y="633.1" width="5.2" height="4.6" fill="#ff0000"/>
<rect x="88.8" y="637.8" width="5.2" height="1.0" fill="#0000ff"/>
<rect x="88.8" y="646.3" width="5.2" height="5.2" fill="#0000ff"/>
<rect x="88.8" y="654.4" width="5.2" height="4.6" fill="#0000ff"/>
<rect x="114.0" y="617.0" width="5.8" height="5.2" fill="#ff0000"/>
<rect x="114.0" y="632.0" width="5.8" height="5.2" fill="#0000ff"/>
<rect x="114.0" y="638.3" width="5.8" height="5.2" fill="#ff0000"/>
<rect x="114.0" y="661.1" width="5.8" height="5.1" fill="#0000ff"/>
<rect x="122.1" y="619.3" width="5.8" height="5.8" fill="#ff0000"/>
<rect x="122.1" y="628.2" width="5.8" height="5.5" fill="#ff0000"/>
<rect x="122.1" y="635.4" width="5.8" height="16.7" fill="#0000ff"/>
<rect x="122.1" y="644.1" width="5.8" height="5.7" fill="#ff0000"/>
<rect x="139.4" y="617.0" width="5.2" height="7.5" fill="#ff0000"/>
<rect x="139.4" y="657.9" width="5.2" height="9.2" fill="#0000ff"/>
<rect x="147.1" y="616.2" width="6.1" height="5.4" fill="#ff0000"/>
<rect x="147.1" y="625.6" width="6.1" height="5.2" fill="#ff0000"/>
<rect x="147.1" y="642.4" width="6.1" height="5.4" fill="#0000ff"/>
<rect x="147.1" y="654.5" width="6.1" height="5.1" fill="#0000ff"/>
<rect x="364.8" y="621.0" width="5.2" height="10.4" fill="#ff0000"/>
<rect x="364.8" y="632.6" width="5.2" height="3.4" fill="#0000ff"/>
<rect x="364.8" y="636.0" width="5.2" height="5.8" fill="#ff0000"/>
<rect x="364.8" y="641.8" width="5.2" height="7.5" fill="#0000ff"/>
<rect x="364.8" y="663.1" width="5.2" height="5.2" fill="#ff0000"/>
<rect x="373.4" y="622.2" width="5.6" height="9.8" fill="#ff0000"/>
<rect x="373.4" y="635.4" width="5.6" height="5.2" fill="#ff0000"/>
<rect x="373.4" y="651.2" width="5.6" height="6.7" fill="#0000ff"/>
<rect x="381.5" y="619.0" width="5.8" height="4.9" fill="#ff0000"/>
<rect x="381.5" y="663.1" width="5.8" height="5.2" fill="#0000ff"/>
<rect x="406.9" y="618.7" width="5.2" height="13.3" fill="#ff0000"/>
<rect x="406.9" y="649.3" width="5.2" height="4.6" fill="#0000ff"/>
<rect x="406.9" y="657.9" width="5.2" height="7.5" fill="#0000ff"/>
<rect x="415.0" y="634.3" width="5.2" height="6.9" fill="#ff0000"/>
<rect x="415.0" y="641.2" width="5.2" height="2.9" fill="#0000ff"/>
<rect x="415.0" y="647.0" width="5.2" height="4.6" fill="#ff0000"/>
<rect x="415.0" y="651.6" width="5.2" height="5.2" fill="#0000ff"/>
<rect x="52.2" y="602.0" width="410.30" height="75.00" fill="none" stroke="#222222" stroke-width="1.5"/>
<line x1="76.70" y1="677.0" x2="76.70" y2="672.20" stroke="#222222" stroke-width="1.5"/>
<line x1="76.70" y1="602.0" x2="76.70" y2="606.80" stroke="#222222" stroke-width="1.5"/>
<text x="76.70" y="692.00" font-size="10" text-anchor="middle">07/20</text>
<line x1="135.29" y1="677.0" x2="135.29" y2="672.20" stroke="#222222" stroke-width="1.5"/>
<line x1="135.29" y1="602.0" x2="135.29" y2="606.80" stroke="#222222" stroke-width="1.5"/>
<text x="135.29" y="692.00" font-size="10" text-anchor="middle">07/27</text>
<line x1="193.88" y1="677.0" x2="193.88" y2="672.20" stroke="#222222" stroke-width="1.5"/>
<line x1="193.88" y1="602.0" x2="193.88" y2="606.80" stroke="#222222" stroke-width="1.5"/>
<text x="193.88" y="692.00" font-size="10" text-anchor="middle">08/03</text>
<line x1="252.47" y1="677.0" x2="252.47" y2="672.20" stroke="#222222" stroke-width="1.5"/>
<line x1="252.47" y1="602.0" x2="252.47" y2="606.80" stroke="#222222" stroke-width="1.5"/>
<text x="252.47" y="692.00" font-size="10" text-anchor="middle">08/10</text>
<line x1="311.06" y1="677.0" x2="311.06" y2="672.20" stroke="#222222" stroke-width="1.5"/>
<line x1="311.06" y1="602.0" x2="311.06" y2="606.80" stroke="#222222" stroke-width="1.5"/>
<text x="311.06" y="692.00" font-size="10" text-anchor="middle">08/17</text>
<line x1="369.65" y1="677.0" x2="369.65" y2="672.20" stroke="#222222" stroke-width="1.5"/>
<line x1="369.65" y1="602.0" x2="369.65" y2="606.80" stroke="#222222" stroke-width="1.5"/>
<text x="369.65" y="692.00" font-size="10" text-anchor="middle">08/24</text>
<line x1="428.24" y1="677.0" x2="428.24" y2="672.20" stroke="#222222" stroke-width="1.5"/>
<line x1="428.24" y1="602.0" x2="428.24" y2="606.80" stroke="#222222" stroke-width="1.5"/>
<text x="428.24" y="692.00" font-size="10" text-anchor="middle">08/31</text>
<line x1="52.2" y1="677.00" x2="57.00" y2="677.00" stroke="#222222" stroke-width="1.5"/>
<text x="47.7" y="681.20" font-size="10" text-anchor="end">0</text>
<line x1="52.2" y1="652.81" x2="57.00" y2="652.81" stroke="#222222" stroke-width="1.5"/>
<text x="47.7" y="657.01" font-size="10" text-anchor="end">0.005</text>
<line x1="52.2" y1="628.61" x2="57.00" y2="628.61" stroke="#222222" stroke-width="1.5"/>
<text x="47.7" y="632.81" font-size="10" text-anchor="end">0.01</text>
<line x1="52.2" y1="604.42" x2="57.00" y2="604.42" stroke="#222222" stroke-width="1.5"/>
<text x="47.7" y="608.62" font-size="10" text-anchor="end">0.015</text>
<line x1="462.5" y1="601.80" x2="457.7" y2="601.80" stroke="#222222" stroke-width="1.5"/>
<text x="467.0" y="605.80" font-size="10">1.7</text>
<line x1="462.5" y1="623.20" x2="457.7" y2="623.20" stroke="#222222" stroke-width="1.5"/>
<text x="467.0" y="627.20" font-size="10">1.6</text>
<line x1="462.5" y1="644.60" x2="457.7" y2="644.60" stroke="#222222" stroke-width="1.5"/>
<text x="467.0" y="648.60" font-size="10">1.5</text>
<line x1="462.5" y1="666.10" x2="457.7" y2="666.10" stroke="#222222" stroke-width="1.5"/>
<text x="467.0" y="670.10" font-size="10">1.4</text>
<rect x="53.5" y="602.0" width="44.4" height="75.8" fill="#f26a2f" fill-opacity="0.2"/>
<line x1="97.4" y1="602.0" x2="97.4" y2="677.8" stroke="#f26a2f" stroke-opacity="0.15" stroke-width="1"/>
<line x1="54.8" y1="602.0" x2="54.8" y2="677.8" stroke="#f26a2f" stroke-opacity="0.12" stroke-width="1"/>
<rect x="359.1" y="601.1" width="33.8" height="76.7" fill="#6b9a2a" fill-opacity="0.2"/>
<line x1="359.6" y1="601.1" x2="359.6" y2="677.8" stroke="#6b9a2a" stroke-opacity="0.12" stroke-width="1"/>
<line x1="392.4" y1="601.1" x2="392.4" y2="677.8" stroke="#6b9a2a" stroke-opacity="0.08" stroke-width="1"/>
<text x="29" y="14.0" font-size="12">(a)</text>
<text x="27" y="128.0" font-size="12">(b)</text>
<text x="29.5" y="247.0" font-size="12">(c)</text>
<text x="26.4" y="362.4" font-size="12">(d)</text>
<text x="27.8" y="479.4" font-size="12">(e)</text>
<text x="27" y="590.4" font-size="12">(f)</text>
<text transform="translate(22.4,62.5) rotate(-90)" font-size="11.4" text-anchor="middle">Altitude a.s.l.</text>
<text transform="translate(36.8,61) rotate(-90)" font-size="11.4" text-anchor="middle">[km]</text>
<text transform="translate(12.8,178.8) rotate(-90)" font-size="11.4" text-anchor="middle">Backscatter</text>
<text transform="translate(30.3,177) rotate(-90)" font-size="11.4" text-anchor="middle">[Mm<tspan dy="-4.6" font-size="8.6"> -1</tspan><tspan dy="4.6"> sr</tspan><tspan dy="-4.6" font-size="8.6">-1</tspan><tspan dy="4.6">]</tspan></text>
<text transform="translate(25.8,295.6) rotate(-90)" font-size="11.4" text-anchor="middle">LR [sr]</text>
<text transform="translate(32.0,413) rotate(-90)" font-size="11.4" text-anchor="middle">PLDR [%]</text>
<text transform="translate(28.6,527.5) rotate(-90)" font-size="11.4" text-anchor="middle">Reff [µm]</text>
<text transform="translate(17.0,639.5) rotate(-90)" font-size="11.8" text-anchor="middle">ml</text>
<text transform="translate(496.0,639.5) rotate(-90)" font-size="11.4" text-anchor="middle">mR</text>
<text x="257.5" y="707" font-size="11" text-anchor="middle">Date</text>
<rect x="283.0" y="7.5" width="5.0" height="5.0" fill="#000"/>
<text x="303.3" y="14" font-size="10">Thickness</text>
<rect x="367.0" y="7.5" width="5.0" height="5.0" fill="#f00"/>
<text x="387.2" y="14" font-size="10">Top</text>
<rect x="422.8" y="7.5" width="5.0" height="5.0" fill="#00f"/>
<text x="443.0" y="14" font-size="10">Base</text>
<path d="M252.2 121.8H258.6M255.4 121.8V131.4M252.2 131.4H258.6" stroke="#00f" stroke-opacity="0.6" stroke-width="1" fill="none"/>
<rect x="252.8" y="124.0" width="5.2" height="5.2" fill="#00f"/>
<text x="273.0" y="130.9" font-size="10">355 nm</text>
<path d="M324.8 121.8H331.2M328.0 121.8V131.4M324.8 131.4H331.2" stroke="#0f0" stroke-opacity="0.6" stroke-width="1" fill="none"/>
<rect x="325.4" y="124.0" width="5.2" height="5.2" fill="#0f0"/>
<text x="345.0" y="130.9" font-size="10">532 nm</text>
<path d="M396.8 121.8H403.2M400.0 121.8V131.4M396.8 131.4H403.2" stroke="#f00" stroke-opacity="0.6" stroke-width="1" fill="none"/>
<rect x="397.4" y="124.0" width="5.2" height="5.2" fill="#f00"/>
<text x="417.8" y="130.9" font-size="10">1064 nm</text>
<path d="M328.3 240.6H334.7M331.5 240.6V250.2M328.3 250.2H334.7" stroke="#00f" stroke-opacity="0.6" stroke-width="1" fill="none"/>
<rect x="328.9" y="242.8" width="5.2" height="5.2" fill="#00f"/>
<text x="349.0" y="249.8" font-size="10">355 nm</text>
<path d="M400.3 240.6H406.7M403.5 240.6V250.2M400.3 250.2H406.7" stroke="#0f0" stroke-opacity="0.6" stroke-width="1" fill="none"/>
<rect x="400.9" y="242.8" width="5.2" height="5.2" fill="#0f0"/>
<text x="420.4" y="249.8" font-size="10">532 nm</text>
<path d="M328.3 357.8H334.7M331.5 357.8V367.4M328.3 367.4H334.7" stroke="#00f" stroke-opacity="0.6" stroke-width="1" fill="none"/>
<rect x="328.9" y="360.0" width="5.2" height="5.2" fill="#00f"/>
<text x="349.0" y="367.0" font-size="10">355 nm</text>
<path d="M400.3 357.8H406.7M403.5 357.8V367.4M400.3 367.4H406.7" stroke="#0f0" stroke-opacity="0.6" stroke-width="1" fill="none"/>
<rect x="400.9" y="360.0" width="5.2" height="5.2" fill="#0f0"/>
<text x="420.4" y="367.0" font-size="10">532 nm</text>
<path d="M302.0 475.0H308.4M305.2 475.0V484.6M302.0 484.6H308.4" stroke="#000" stroke-opacity="0.7" stroke-width="1" fill="none"/>
<rect x="302.8" y="477.4" width="4.8" height="4.8" fill="#000"/>
<text x="322.6" y="484" font-size="10">Lidar</text>
<path d="M363.3 475.0H369.7M366.5 475.0V484.6M363.3 484.6H369.7" stroke="#f0f" stroke-opacity="0.6" stroke-width="1" fill="none"/>
<circle cx="366.5" cy="479.9" r="3.2" fill="#f0f"/>
<text x="384" y="484" font-size="10">Sun-photometer</text>
<path d="M366.8 586.5H373.2M370.0 586.5V596.1M366.8 596.1H373.2" stroke="#00f" stroke-opacity="0.6" stroke-width="1" fill="none"/>
<rect x="367.4" y="588.7" width="5.2" height="5.2" fill="#00f"/>
<text x="387.6" y="595" font-size="10">ml</text>
<path d="M416.8 586.5H423.2M420.0 586.5V596.1M416.8 596.1H423.2" stroke="#f00" stroke-opacity="0.6" stroke-width="1" fill="none"/>
<rect x="417.4" y="588.7" width="5.2" height="5.2" fill="#f00"/>
<text x="436.8" y="595" font-size="10">mR</text>
</svg></body></html>
